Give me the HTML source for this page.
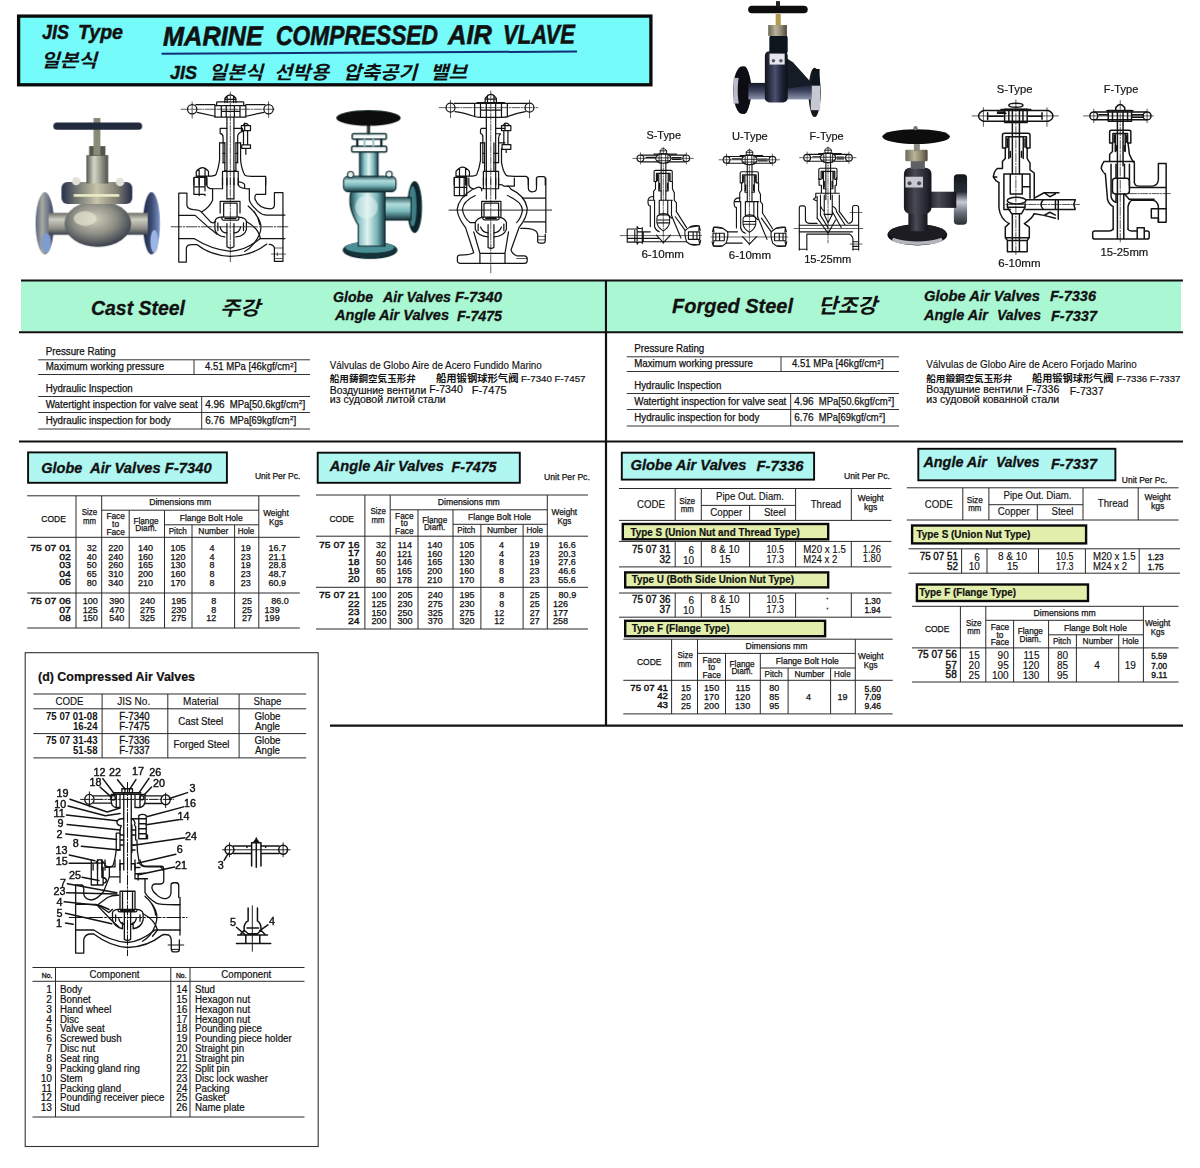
<!DOCTYPE html>
<html><head><meta charset="utf-8"><title>Marine Compressed Air Valve</title>
<style>
html,body{margin:0;padding:0;background:#fff;}
body{width:1200px;height:1168px;overflow:hidden;font-family:"Liberation Sans",sans-serif;}
svg{display:block;font-family:"Liberation Sans",sans-serif;}
svg text{fill:#111;}
</style></head><body>
<svg width="1200" height="1168" viewBox="0 0 1200 1168">
<rect x="18.6" y="16.1" width="632.3" height="68.7" fill="#74fbfa" stroke="#0a0a0a" stroke-width="3.3"/>
<text x="42.0" y="38.8" font-size="20" font-weight="bold" font-style="italic" textLength="27.0" lengthAdjust="spacingAndGlyphs" stroke="#111" stroke-width="0.45">JIS</text>
<text x="78.0" y="38.8" font-size="20" font-weight="bold" font-style="italic" textLength="45.0" lengthAdjust="spacingAndGlyphs" stroke="#111" stroke-width="0.45">Type</text>
<text x="41.0" y="66.5" font-size="18.5" font-weight="bold" font-style="italic" textLength="56.0" lengthAdjust="spacingAndGlyphs" style="font-family:'Liberation Sans','Noto Sans CJK KR',sans-serif">일본식</text>
<g transform="rotate(-0.3 370 45)">
<text x="163.0" y="44.6" font-size="27" font-weight="bold" font-style="italic" textLength="100.0" lengthAdjust="spacingAndGlyphs" stroke="#111" stroke-width="0.6">MARINE</text>
<text x="276.0" y="44.6" font-size="27" font-weight="bold" font-style="italic" textLength="162.0" lengthAdjust="spacingAndGlyphs" stroke="#111" stroke-width="0.6">COMPRESSED</text>
<text x="448.0" y="44.6" font-size="27" font-weight="bold" font-style="italic" textLength="44.0" lengthAdjust="spacingAndGlyphs" stroke="#111" stroke-width="0.6">AIR</text>
<text x="503.0" y="44.6" font-size="27" font-weight="bold" font-style="italic" textLength="72.0" lengthAdjust="spacingAndGlyphs" stroke="#111" stroke-width="0.6">VLAVE</text>
<line x1="161.5" y1="52.6" x2="577.0" y2="52.6" stroke="#12307a" stroke-width="2"/>
</g>
<text x="170.0" y="79.0" font-size="19" font-weight="bold" font-style="italic" textLength="27.0" lengthAdjust="spacingAndGlyphs" stroke="#111" stroke-width="0.45">JIS</text>
<text x="209.0" y="78.5" font-size="18.5" font-weight="bold" font-style="italic" textLength="54.0" lengthAdjust="spacingAndGlyphs" style="font-family:'Liberation Sans','Noto Sans CJK KR',sans-serif">일본식</text>
<text x="274.0" y="78.5" font-size="18.5" font-weight="bold" font-style="italic" textLength="55.0" lengthAdjust="spacingAndGlyphs" style="font-family:'Liberation Sans','Noto Sans CJK KR',sans-serif">선박용</text>
<text x="343.0" y="78.5" font-size="18.5" font-weight="bold" font-style="italic" textLength="74.0" lengthAdjust="spacingAndGlyphs" style="font-family:'Liberation Sans','Noto Sans CJK KR',sans-serif">압축공기</text>
<text x="430.0" y="78.5" font-size="18.5" font-weight="bold" font-style="italic" textLength="37.0" lengthAdjust="spacingAndGlyphs" style="font-family:'Liberation Sans','Noto Sans CJK KR',sans-serif">밸브</text>
<rect x="21.0" y="281.0" width="584.0" height="50.5" fill="#aaf7d4"/>
<rect x="607.5" y="280.0" width="573.5" height="52.0" fill="#aaf7d4"/>
<line x1="21.0" y1="280.5" x2="1183.0" y2="280.5" stroke="#111" stroke-width="2"/>
<line x1="19.0" y1="332.3" x2="605.0" y2="332.3" stroke="#111" stroke-width="2"/>
<line x1="607.0" y1="332.3" x2="1183.0" y2="332.3" stroke="#111" stroke-width="2"/>
<line x1="606.0" y1="280.0" x2="606.0" y2="726.0" stroke="#111" stroke-width="2.2"/>
<line x1="19.0" y1="441.5" x2="1183.0" y2="441.5" stroke="#111" stroke-width="2.2"/>
<line x1="330.0" y1="725.7" x2="1183.0" y2="725.7" stroke="#111" stroke-width="2.2"/>
<text x="91.0" y="314.5" font-size="20" font-weight="bold" font-style="italic" textLength="94.0" lengthAdjust="spacingAndGlyphs" stroke="#111" stroke-width="0.3">Cast Steel</text>
<text x="220.0" y="314.5" font-size="19.5" font-weight="bold" font-style="italic" textLength="40.0" lengthAdjust="spacingAndGlyphs" style="font-family:'Liberation Sans','Noto Sans CJK KR',sans-serif">주강</text>
<text x="333.0" y="302.0" font-size="14.5" font-weight="bold" font-style="italic" textLength="40.0" lengthAdjust="spacingAndGlyphs" stroke="#111" stroke-width="0.3">Globe</text>
<text x="383.0" y="302.0" font-size="14.5" font-weight="bold" font-style="italic" textLength="68.0" lengthAdjust="spacingAndGlyphs" stroke="#111" stroke-width="0.3">Air Valves</text>
<text x="455.0" y="302.0" font-size="14.5" font-weight="bold" font-style="italic" textLength="47.0" lengthAdjust="spacingAndGlyphs" stroke="#111" stroke-width="0.3">F-7340</text>
<text x="335.0" y="320.0" font-size="14.5" font-weight="bold" font-style="italic" textLength="114.0" lengthAdjust="spacingAndGlyphs" stroke="#111" stroke-width="0.3">Angle Air Valves</text>
<text x="457.0" y="321.0" font-size="14.5" font-weight="bold" font-style="italic" textLength="45.0" lengthAdjust="spacingAndGlyphs" stroke="#111" stroke-width="0.3">F-7475</text>
<text x="672.0" y="313.0" font-size="21" font-weight="bold" font-style="italic" textLength="121.0" lengthAdjust="spacingAndGlyphs" stroke="#111" stroke-width="0.3">Forged Steel</text>
<text x="818.0" y="313.0" font-size="20.5" font-weight="bold" font-style="italic" textLength="59.0" lengthAdjust="spacingAndGlyphs" style="font-family:'Liberation Sans','Noto Sans CJK KR',sans-serif">단조강</text>
<text x="924.0" y="301.0" font-size="14.5" font-weight="bold" font-style="italic" textLength="116.0" lengthAdjust="spacingAndGlyphs" stroke="#111" stroke-width="0.3">Globe Air Valves</text>
<text x="1050.0" y="301.0" font-size="14.5" font-weight="bold" font-style="italic" textLength="46.0" lengthAdjust="spacingAndGlyphs" stroke="#111" stroke-width="0.3">F-7336</text>
<text x="924.0" y="320.0" font-size="14.5" font-weight="bold" font-style="italic" textLength="64.0" lengthAdjust="spacingAndGlyphs" stroke="#111" stroke-width="0.3">Angle Air</text>
<text x="997.0" y="320.0" font-size="14.5" font-weight="bold" font-style="italic" textLength="44.0" lengthAdjust="spacingAndGlyphs" stroke="#111" stroke-width="0.3">Valves</text>
<text x="1051.0" y="321.0" font-size="14.5" font-weight="bold" font-style="italic" textLength="46.0" lengthAdjust="spacingAndGlyphs" stroke="#111" stroke-width="0.3">F-7337</text>
<text x="45.7" y="355.0" font-size="10" textLength="70.0" lengthAdjust="spacingAndGlyphs" stroke="#111" stroke-width="0.25">Pressure Rating</text><line x1="38.2" y1="359.8" x2="310.0" y2="359.8" stroke="#333" stroke-width="1"/><text x="45.7" y="370.0" font-size="10" textLength="118.5" lengthAdjust="spacingAndGlyphs" stroke="#111" stroke-width="0.25">Maximum working pressure</text><line x1="38.2" y1="374.5" x2="310.0" y2="374.5" stroke="#333" stroke-width="1"/><line x1="194.0" y1="359.8" x2="194.0" y2="374.5" stroke="#333" stroke-width="1"/><text x="205.0" y="370.3" font-size="10" textLength="85.0" lengthAdjust="spacingAndGlyphs" stroke="#111" stroke-width="0.25">4.51 MPa [46kgf/cm</text><text x="290.3" y="366.5" font-size="6" stroke="#111" stroke-width="0.25">2</text><text x="294.0" y="370.3" font-size="10" stroke="#111" stroke-width="0.25">]</text><text x="45.7" y="392.3" font-size="10" textLength="87.0" lengthAdjust="spacingAndGlyphs" stroke="#111" stroke-width="0.25">Hydraulic Inspection</text><line x1="38.2" y1="396.5" x2="310.0" y2="396.5" stroke="#333" stroke-width="1"/><text x="45.7" y="408.0" font-size="10" textLength="152.0" lengthAdjust="spacingAndGlyphs" stroke="#111" stroke-width="0.25">Watertight inspection for valve seat</text><line x1="38.2" y1="412.5" x2="310.0" y2="412.5" stroke="#333" stroke-width="1"/><text x="45.7" y="424.0" font-size="10" textLength="125.0" lengthAdjust="spacingAndGlyphs" stroke="#111" stroke-width="0.25">Hydraulic inspection for body</text><line x1="38.2" y1="429.0" x2="310.0" y2="429.0" stroke="#333" stroke-width="1"/><line x1="201.7" y1="396.5" x2="201.7" y2="429.0" stroke="#333" stroke-width="1"/><text x="205.2" y="408.0" font-size="10" textLength="19.5" lengthAdjust="spacingAndGlyphs" stroke="#111" stroke-width="0.25">4.96</text><text x="229.7" y="408.0" font-size="10" textLength="69.0" lengthAdjust="spacingAndGlyphs" stroke="#111" stroke-width="0.25">MPa[50.6kgf/cm</text><text x="298.9" y="404.2" font-size="6" stroke="#111" stroke-width="0.25">2</text><text x="302.4" y="408.0" font-size="10" stroke="#111" stroke-width="0.25">]</text><text x="205.2" y="424.0" font-size="10" textLength="19.5" lengthAdjust="spacingAndGlyphs" stroke="#111" stroke-width="0.25">6.76</text><text x="229.7" y="424.0" font-size="10" textLength="60.0" lengthAdjust="spacingAndGlyphs" stroke="#111" stroke-width="0.25">MPa[69kgf/cm</text><text x="289.9" y="420.2" font-size="6" stroke="#111" stroke-width="0.25">2</text><text x="293.4" y="424.0" font-size="10" stroke="#111" stroke-width="0.25">]</text>
<text x="634.3" y="352.0" font-size="10" textLength="70.0" lengthAdjust="spacingAndGlyphs" stroke="#111" stroke-width="0.25">Pressure Rating</text><line x1="626.8" y1="356.8" x2="899.0" y2="356.8" stroke="#333" stroke-width="1"/><text x="634.3" y="367.0" font-size="10" textLength="118.5" lengthAdjust="spacingAndGlyphs" stroke="#111" stroke-width="0.25">Maximum working pressure</text><line x1="626.8" y1="371.5" x2="899.0" y2="371.5" stroke="#333" stroke-width="1"/><line x1="781.0" y1="356.8" x2="781.0" y2="371.5" stroke="#333" stroke-width="1"/><text x="792.0" y="367.3" font-size="10" textLength="85.0" lengthAdjust="spacingAndGlyphs" stroke="#111" stroke-width="0.25">4.51 MPa [46kgf/cm</text><text x="877.3" y="363.5" font-size="6" stroke="#111" stroke-width="0.25">2</text><text x="881.0" y="367.3" font-size="10" stroke="#111" stroke-width="0.25">]</text><text x="634.3" y="389.3" font-size="10" textLength="87.0" lengthAdjust="spacingAndGlyphs" stroke="#111" stroke-width="0.25">Hydraulic Inspection</text><line x1="626.8" y1="393.5" x2="899.0" y2="393.5" stroke="#333" stroke-width="1"/><text x="634.3" y="405.0" font-size="10" textLength="152.0" lengthAdjust="spacingAndGlyphs" stroke="#111" stroke-width="0.25">Watertight inspection for valve seat</text><line x1="626.8" y1="409.5" x2="899.0" y2="409.5" stroke="#333" stroke-width="1"/><text x="634.3" y="421.0" font-size="10" textLength="125.0" lengthAdjust="spacingAndGlyphs" stroke="#111" stroke-width="0.25">Hydraulic inspection for body</text><line x1="626.8" y1="426.0" x2="899.0" y2="426.0" stroke="#333" stroke-width="1"/><line x1="790.7" y1="393.5" x2="790.7" y2="426.0" stroke="#333" stroke-width="1"/><text x="794.2" y="405.0" font-size="10" textLength="19.5" lengthAdjust="spacingAndGlyphs" stroke="#111" stroke-width="0.25">4.96</text><text x="818.7" y="405.0" font-size="10" textLength="69.0" lengthAdjust="spacingAndGlyphs" stroke="#111" stroke-width="0.25">MPa[50.6kgf/cm</text><text x="887.9" y="401.2" font-size="6" stroke="#111" stroke-width="0.25">2</text><text x="891.4" y="405.0" font-size="10" stroke="#111" stroke-width="0.25">]</text><text x="794.2" y="421.0" font-size="10" textLength="19.5" lengthAdjust="spacingAndGlyphs" stroke="#111" stroke-width="0.25">6.76</text><text x="818.7" y="421.0" font-size="10" textLength="60.0" lengthAdjust="spacingAndGlyphs" stroke="#111" stroke-width="0.25">MPa[69kgf/cm</text><text x="878.9" y="417.2" font-size="6" stroke="#111" stroke-width="0.25">2</text><text x="882.4" y="421.0" font-size="10" stroke="#111" stroke-width="0.25">]</text>
<text x="329.8" y="368.8" font-size="11" textLength="212.0" lengthAdjust="spacingAndGlyphs" stroke="#111" stroke-width="0.15">Válvulas de Globo Aire de Acero Fundido Marino</text>
<text x="329.8" y="382.3" font-size="9.6" font-weight="bold" textLength="86.0" lengthAdjust="spacingAndGlyphs" style="font-family:'Liberation Sans','Noto Sans CJK JP',sans-serif">船用鋳鋼空気玉形弁</text>
<text x="436.0" y="382.3" font-size="10" font-weight="bold" textLength="82.5" lengthAdjust="spacingAndGlyphs" style="font-family:'Liberation Sans','Noto Sans CJK SC',sans-serif">船用锻钢球形气阀</text>
<text x="521.0" y="382.3" font-size="9.5" textLength="64.5" lengthAdjust="spacingAndGlyphs" stroke="#111" stroke-width="0.2">F-7340 F-7457</text>
<text x="329.8" y="393.5" font-size="10.5" textLength="96.4" lengthAdjust="spacingAndGlyphs" stroke="#111" stroke-width="0.2">Воздушние вентили</text>
<text x="429.2" y="393.2" font-size="10.5" textLength="33.6" lengthAdjust="spacingAndGlyphs" stroke="#111" stroke-width="0.2">F-7340</text>
<text x="471.7" y="394.0" font-size="10.5" textLength="35.0" lengthAdjust="spacingAndGlyphs" stroke="#111" stroke-width="0.2">F-7475</text>
<text x="329.8" y="403.3" font-size="10.5" textLength="116.0" lengthAdjust="spacingAndGlyphs" stroke="#111" stroke-width="0.2">из судовой литой стали</text>
<text x="926.3" y="367.9" font-size="11" textLength="210.5" lengthAdjust="spacingAndGlyphs" stroke="#111" stroke-width="0.15">Válvulas de Globo Aire de Acero Forjado Marino</text>
<text x="926.3" y="382.0" font-size="9.6" font-weight="bold" textLength="86.0" lengthAdjust="spacingAndGlyphs" style="font-family:'Liberation Sans','Noto Sans CJK JP',sans-serif">船用鍛鋼空気玉形弁</text>
<text x="1032.0" y="382.0" font-size="10" font-weight="bold" textLength="81.5" lengthAdjust="spacingAndGlyphs" style="font-family:'Liberation Sans','Noto Sans CJK SC',sans-serif">船用锻钢球形气阀</text>
<text x="1116.5" y="381.8" font-size="9.5" textLength="64.0" lengthAdjust="spacingAndGlyphs" stroke="#111" stroke-width="0.2">F-7336 F-7337</text>
<text x="926.3" y="393.3" font-size="10.5" textLength="96.4" lengthAdjust="spacingAndGlyphs" stroke="#111" stroke-width="0.2">Воздушние вентили</text>
<text x="1026.0" y="392.8" font-size="10.5" textLength="33.3" lengthAdjust="spacingAndGlyphs" stroke="#111" stroke-width="0.2">F-7336</text>
<text x="1069.8" y="394.5" font-size="10.5" textLength="33.9" lengthAdjust="spacingAndGlyphs" stroke="#111" stroke-width="0.2">F-7337</text>
<text x="926.3" y="402.6" font-size="10.5" textLength="133.0" lengthAdjust="spacingAndGlyphs" stroke="#111" stroke-width="0.2">из судовой кованной стали</text>
<rect x="28.1" y="452.4" width="198.8" height="30.4" fill="#b0f6f1" stroke="#0a0a0a" stroke-width="1.9"/>
<text x="41.3" y="472.8" font-size="14.5" font-weight="bold" font-style="italic" textLength="41.0" lengthAdjust="spacingAndGlyphs" stroke="#111" stroke-width="0.3">Globe</text>
<text x="90.0" y="472.8" font-size="14.5" font-weight="bold" font-style="italic" textLength="121.6" lengthAdjust="spacingAndGlyphs" stroke="#111" stroke-width="0.3">Air Valves F-7340</text>
<text x="254.9" y="479.3" font-size="8.8" textLength="45.4" lengthAdjust="spacingAndGlyphs" stroke="#111" stroke-width="0.25">Unit Per Pc.</text>
<line x1="27.2" y1="495.8" x2="299.8" y2="495.8" stroke="#2a2a2a" stroke-width="1"/><line x1="101.7" y1="510.2" x2="258.8" y2="510.2" stroke="#2a2a2a" stroke-width="1"/><line x1="164.5" y1="524.8" x2="258.8" y2="524.8" stroke="#2a2a2a" stroke-width="1"/><line x1="27.2" y1="537.3" x2="299.8" y2="537.3" stroke="#2a2a2a" stroke-width="1"/><line x1="76.0" y1="495.8" x2="76.0" y2="628.0" stroke="#2a2a2a" stroke-width="1"/><line x1="101.7" y1="495.8" x2="101.7" y2="628.0" stroke="#2a2a2a" stroke-width="1"/><line x1="129.2" y1="510.2" x2="129.2" y2="628.0" stroke="#2a2a2a" stroke-width="1"/><line x1="164.5" y1="510.2" x2="164.5" y2="628.0" stroke="#2a2a2a" stroke-width="1"/><line x1="192.0" y1="524.8" x2="192.0" y2="628.0" stroke="#2a2a2a" stroke-width="1"/><line x1="234.6" y1="524.8" x2="234.6" y2="628.0" stroke="#2a2a2a" stroke-width="1"/><line x1="258.8" y1="495.8" x2="258.8" y2="628.0" stroke="#2a2a2a" stroke-width="1"/><line x1="27.2" y1="593.0" x2="299.8" y2="593.0" stroke="#2a2a2a" stroke-width="1"/><line x1="27.2" y1="628.0" x2="299.8" y2="628.0" stroke="#2a2a2a" stroke-width="1"/>
<text x="149.2" y="505.4" font-size="8.8" textLength="62.0" lengthAdjust="spacingAndGlyphs" stroke="#111" stroke-width="0.25">Dimensions mm</text><text x="41.3" y="522.3" font-size="9.600000000000001" textLength="24.5" lengthAdjust="spacingAndGlyphs" stroke="#111" stroke-width="0.25">CODE</text><text x="81.7" y="515.0" font-size="8.8" textLength="15.5" lengthAdjust="spacingAndGlyphs" stroke="#111" stroke-width="0.25">Size</text><text x="82.9" y="523.5" font-size="8.8" textLength="13.0" lengthAdjust="spacingAndGlyphs" stroke="#111" stroke-width="0.25">mm</text><text x="106.4" y="519.4" font-size="8.8" textLength="18.5" lengthAdjust="spacingAndGlyphs" stroke="#111" stroke-width="0.25">Face</text><text x="112.1" y="527.0" font-size="8.8" textLength="7.0" lengthAdjust="spacingAndGlyphs" stroke="#111" stroke-width="0.25">to</text><text x="106.4" y="534.5" font-size="8.8" textLength="18.5" lengthAdjust="spacingAndGlyphs" stroke="#111" stroke-width="0.25">Face</text><text x="133.5" y="523.5" font-size="8.8" textLength="25.0" lengthAdjust="spacingAndGlyphs" stroke="#111" stroke-width="0.25">Flange</text><text x="135.3" y="531.0" font-size="8.8" textLength="21.5" lengthAdjust="spacingAndGlyphs" stroke="#111" stroke-width="0.25">Diam.</text><text x="179.7" y="520.5" font-size="8.8" textLength="63.0" lengthAdjust="spacingAndGlyphs" stroke="#111" stroke-width="0.25">Flange Bolt Hole</text><text x="168.7" y="533.8" font-size="8.8" textLength="18.0" lengthAdjust="spacingAndGlyphs" stroke="#111" stroke-width="0.25">Pitch</text><text x="198.3" y="533.8" font-size="8.8" textLength="30.0" lengthAdjust="spacingAndGlyphs" stroke="#111" stroke-width="0.25">Number</text><text x="237.8" y="533.8" font-size="8.8" textLength="16.5" lengthAdjust="spacingAndGlyphs" stroke="#111" stroke-width="0.25">Hole</text><text x="263.2" y="515.5" font-size="8.8" textLength="25.5" lengthAdjust="spacingAndGlyphs" stroke="#111" stroke-width="0.25">Weight</text><text x="269.0" y="524.8" font-size="8.8" textLength="14.0" lengthAdjust="spacingAndGlyphs" stroke="#111" stroke-width="0.25">Kgs</text>
<text x="30.2" y="551.1" font-size="9" textLength="40.6" lengthAdjust="spacingAndGlyphs" stroke="#111" stroke-width="0.4">75 07 01</text>
<text x="86.8" y="551.4" font-size="8.2" textLength="10.0" lengthAdjust="spacingAndGlyphs" stroke="#111" stroke-width="0.25">32</text>
<text x="108.3" y="551.4" font-size="8.2" textLength="15.1" lengthAdjust="spacingAndGlyphs" stroke="#111" stroke-width="0.25">220</text>
<text x="137.9" y="551.4" font-size="8.2" textLength="15.1" lengthAdjust="spacingAndGlyphs" stroke="#111" stroke-width="0.25">140</text>
<text x="170.4" y="551.4" font-size="8.2" textLength="15.1" lengthAdjust="spacingAndGlyphs" stroke="#111" stroke-width="0.25">105</text>
<text x="209.5" y="551.4" font-size="8.2" textLength="5.0" lengthAdjust="spacingAndGlyphs" stroke="#111" stroke-width="0.25">4</text>
<text x="240.8" y="551.4" font-size="8.2" textLength="10.0" lengthAdjust="spacingAndGlyphs" stroke="#111" stroke-width="0.25">19</text>
<text x="268.4" y="551.4" font-size="8.2" textLength="17.6" lengthAdjust="spacingAndGlyphs" stroke="#111" stroke-width="0.25">16.7</text>
<text x="59.2" y="559.6" font-size="9" textLength="11.6" lengthAdjust="spacingAndGlyphs" stroke="#111" stroke-width="0.4">02</text>
<text x="86.8" y="559.9" font-size="8.2" textLength="10.0" lengthAdjust="spacingAndGlyphs" stroke="#111" stroke-width="0.25">40</text>
<text x="108.3" y="559.9" font-size="8.2" textLength="15.1" lengthAdjust="spacingAndGlyphs" stroke="#111" stroke-width="0.25">240</text>
<text x="137.9" y="559.9" font-size="8.2" textLength="15.1" lengthAdjust="spacingAndGlyphs" stroke="#111" stroke-width="0.25">160</text>
<text x="170.4" y="559.9" font-size="8.2" textLength="15.1" lengthAdjust="spacingAndGlyphs" stroke="#111" stroke-width="0.25">120</text>
<text x="209.5" y="559.9" font-size="8.2" textLength="5.0" lengthAdjust="spacingAndGlyphs" stroke="#111" stroke-width="0.25">4</text>
<text x="240.8" y="559.9" font-size="8.2" textLength="10.0" lengthAdjust="spacingAndGlyphs" stroke="#111" stroke-width="0.25">23</text>
<text x="268.4" y="559.9" font-size="8.2" textLength="17.6" lengthAdjust="spacingAndGlyphs" stroke="#111" stroke-width="0.25">21.1</text>
<text x="59.2" y="568.1" font-size="9" textLength="11.6" lengthAdjust="spacingAndGlyphs" stroke="#111" stroke-width="0.4">03</text>
<text x="86.8" y="568.4" font-size="8.2" textLength="10.0" lengthAdjust="spacingAndGlyphs" stroke="#111" stroke-width="0.25">50</text>
<text x="108.3" y="568.4" font-size="8.2" textLength="15.1" lengthAdjust="spacingAndGlyphs" stroke="#111" stroke-width="0.25">260</text>
<text x="137.9" y="568.4" font-size="8.2" textLength="15.1" lengthAdjust="spacingAndGlyphs" stroke="#111" stroke-width="0.25">165</text>
<text x="170.4" y="568.4" font-size="8.2" textLength="15.1" lengthAdjust="spacingAndGlyphs" stroke="#111" stroke-width="0.25">130</text>
<text x="209.5" y="568.4" font-size="8.2" textLength="5.0" lengthAdjust="spacingAndGlyphs" stroke="#111" stroke-width="0.25">8</text>
<text x="240.8" y="568.4" font-size="8.2" textLength="10.0" lengthAdjust="spacingAndGlyphs" stroke="#111" stroke-width="0.25">19</text>
<text x="268.4" y="568.4" font-size="8.2" textLength="17.6" lengthAdjust="spacingAndGlyphs" stroke="#111" stroke-width="0.25">28.8</text>
<text x="59.2" y="576.9" font-size="9" textLength="11.6" lengthAdjust="spacingAndGlyphs" stroke="#111" stroke-width="0.4">04</text>
<text x="86.8" y="577.2" font-size="8.2" textLength="10.0" lengthAdjust="spacingAndGlyphs" stroke="#111" stroke-width="0.25">65</text>
<text x="108.3" y="577.2" font-size="8.2" textLength="15.1" lengthAdjust="spacingAndGlyphs" stroke="#111" stroke-width="0.25">310</text>
<text x="137.9" y="577.2" font-size="8.2" textLength="15.1" lengthAdjust="spacingAndGlyphs" stroke="#111" stroke-width="0.25">200</text>
<text x="170.4" y="577.2" font-size="8.2" textLength="15.1" lengthAdjust="spacingAndGlyphs" stroke="#111" stroke-width="0.25">160</text>
<text x="209.5" y="577.2" font-size="8.2" textLength="5.0" lengthAdjust="spacingAndGlyphs" stroke="#111" stroke-width="0.25">8</text>
<text x="240.8" y="577.2" font-size="8.2" textLength="10.0" lengthAdjust="spacingAndGlyphs" stroke="#111" stroke-width="0.25">23</text>
<text x="268.4" y="577.2" font-size="8.2" textLength="17.6" lengthAdjust="spacingAndGlyphs" stroke="#111" stroke-width="0.25">48.7</text>
<text x="59.2" y="585.4" font-size="9" textLength="11.6" lengthAdjust="spacingAndGlyphs" stroke="#111" stroke-width="0.4">05</text>
<text x="86.8" y="585.7" font-size="8.2" textLength="10.0" lengthAdjust="spacingAndGlyphs" stroke="#111" stroke-width="0.25">80</text>
<text x="108.3" y="585.7" font-size="8.2" textLength="15.1" lengthAdjust="spacingAndGlyphs" stroke="#111" stroke-width="0.25">340</text>
<text x="137.9" y="585.7" font-size="8.2" textLength="15.1" lengthAdjust="spacingAndGlyphs" stroke="#111" stroke-width="0.25">210</text>
<text x="170.4" y="585.7" font-size="8.2" textLength="15.1" lengthAdjust="spacingAndGlyphs" stroke="#111" stroke-width="0.25">170</text>
<text x="209.5" y="585.7" font-size="8.2" textLength="5.0" lengthAdjust="spacingAndGlyphs" stroke="#111" stroke-width="0.25">8</text>
<text x="240.8" y="585.7" font-size="8.2" textLength="10.0" lengthAdjust="spacingAndGlyphs" stroke="#111" stroke-width="0.25">23</text>
<text x="268.4" y="585.7" font-size="8.2" textLength="17.6" lengthAdjust="spacingAndGlyphs" stroke="#111" stroke-width="0.25">60.9</text>
<text x="30.2" y="604.1" font-size="9" textLength="40.6" lengthAdjust="spacingAndGlyphs" stroke="#111" stroke-width="0.4">75 07 06</text>
<text x="82.7" y="604.4" font-size="8.2" textLength="15.1" lengthAdjust="spacingAndGlyphs" stroke="#111" stroke-width="0.25">100</text>
<text x="109.3" y="604.4" font-size="8.2" textLength="15.1" lengthAdjust="spacingAndGlyphs" stroke="#111" stroke-width="0.25">390</text>
<text x="139.9" y="604.4" font-size="8.2" textLength="15.1" lengthAdjust="spacingAndGlyphs" stroke="#111" stroke-width="0.25">240</text>
<text x="171.2" y="604.4" font-size="8.2" textLength="15.1" lengthAdjust="spacingAndGlyphs" stroke="#111" stroke-width="0.25">195</text>
<text x="211.2" y="604.4" font-size="8.2" textLength="5.0" lengthAdjust="spacingAndGlyphs" stroke="#111" stroke-width="0.25">8</text>
<text x="242.0" y="604.4" font-size="8.2" textLength="10.0" lengthAdjust="spacingAndGlyphs" stroke="#111" stroke-width="0.25">25</text>
<text x="271.3" y="604.4" font-size="8.2" textLength="17.6" lengthAdjust="spacingAndGlyphs" stroke="#111" stroke-width="0.25">86.0</text>
<text x="59.2" y="612.5" font-size="9" textLength="11.6" lengthAdjust="spacingAndGlyphs" stroke="#111" stroke-width="0.4">07</text>
<text x="82.7" y="612.8" font-size="8.2" textLength="15.1" lengthAdjust="spacingAndGlyphs" stroke="#111" stroke-width="0.25">125</text>
<text x="109.3" y="612.8" font-size="8.2" textLength="15.1" lengthAdjust="spacingAndGlyphs" stroke="#111" stroke-width="0.25">470</text>
<text x="139.9" y="612.8" font-size="8.2" textLength="15.1" lengthAdjust="spacingAndGlyphs" stroke="#111" stroke-width="0.25">275</text>
<text x="171.2" y="612.8" font-size="8.2" textLength="15.1" lengthAdjust="spacingAndGlyphs" stroke="#111" stroke-width="0.25">230</text>
<text x="211.2" y="612.8" font-size="8.2" textLength="5.0" lengthAdjust="spacingAndGlyphs" stroke="#111" stroke-width="0.25">8</text>
<text x="242.0" y="612.8" font-size="8.2" textLength="10.0" lengthAdjust="spacingAndGlyphs" stroke="#111" stroke-width="0.25">25</text>
<text x="264.6" y="612.8" font-size="8.2" textLength="15.1" lengthAdjust="spacingAndGlyphs" stroke="#111" stroke-width="0.25">139</text>
<text x="59.2" y="621.0" font-size="9" textLength="11.6" lengthAdjust="spacingAndGlyphs" stroke="#111" stroke-width="0.4">08</text>
<text x="82.7" y="621.3" font-size="8.2" textLength="15.1" lengthAdjust="spacingAndGlyphs" stroke="#111" stroke-width="0.25">150</text>
<text x="109.3" y="621.3" font-size="8.2" textLength="15.1" lengthAdjust="spacingAndGlyphs" stroke="#111" stroke-width="0.25">540</text>
<text x="139.9" y="621.3" font-size="8.2" textLength="15.1" lengthAdjust="spacingAndGlyphs" stroke="#111" stroke-width="0.25">325</text>
<text x="171.2" y="621.3" font-size="8.2" textLength="15.1" lengthAdjust="spacingAndGlyphs" stroke="#111" stroke-width="0.25">275</text>
<text x="206.2" y="621.3" font-size="8.2" textLength="10.0" lengthAdjust="spacingAndGlyphs" stroke="#111" stroke-width="0.25">12</text>
<text x="242.0" y="621.3" font-size="8.2" textLength="10.0" lengthAdjust="spacingAndGlyphs" stroke="#111" stroke-width="0.25">27</text>
<text x="264.6" y="621.3" font-size="8.2" textLength="15.1" lengthAdjust="spacingAndGlyphs" stroke="#111" stroke-width="0.25">199</text>
<rect x="317.7" y="452.7" width="202.1" height="30.1" fill="#b0f6f1" stroke="#0a0a0a" stroke-width="1.9"/>
<text x="329.8" y="471.0" font-size="14.5" font-weight="bold" font-style="italic" textLength="114.0" lengthAdjust="spacingAndGlyphs" stroke="#111" stroke-width="0.3">Angle Air Valves</text>
<text x="451.5" y="472.2" font-size="14.5" font-weight="bold" font-style="italic" textLength="45.0" lengthAdjust="spacingAndGlyphs" stroke="#111" stroke-width="0.3">F-7475</text>
<text x="544.0" y="479.6" font-size="8.8" textLength="45.8" lengthAdjust="spacingAndGlyphs" stroke="#111" stroke-width="0.25">Unit Per Pc.</text>
<line x1="316.0" y1="495.0" x2="588.0" y2="495.0" stroke="#2a2a2a" stroke-width="1"/><line x1="390.2" y1="509.8" x2="547.3" y2="509.8" stroke="#2a2a2a" stroke-width="1"/><line x1="453.0" y1="524.3" x2="547.3" y2="524.3" stroke="#2a2a2a" stroke-width="1"/><line x1="316.0" y1="536.2" x2="588.0" y2="536.2" stroke="#2a2a2a" stroke-width="1"/><line x1="364.9" y1="495.0" x2="364.9" y2="629.0" stroke="#2a2a2a" stroke-width="1"/><line x1="390.2" y1="495.0" x2="390.2" y2="629.0" stroke="#2a2a2a" stroke-width="1"/><line x1="418.0" y1="509.8" x2="418.0" y2="629.0" stroke="#2a2a2a" stroke-width="1"/><line x1="453.0" y1="509.8" x2="453.0" y2="629.0" stroke="#2a2a2a" stroke-width="1"/><line x1="480.9" y1="524.3" x2="480.9" y2="629.0" stroke="#2a2a2a" stroke-width="1"/><line x1="523.1" y1="524.3" x2="523.1" y2="629.0" stroke="#2a2a2a" stroke-width="1"/><line x1="547.3" y1="495.0" x2="547.3" y2="629.0" stroke="#2a2a2a" stroke-width="1"/><line x1="316.0" y1="587.3" x2="588.0" y2="587.3" stroke="#2a2a2a" stroke-width="1"/><line x1="316.0" y1="629.0" x2="588.0" y2="629.0" stroke="#2a2a2a" stroke-width="1"/>
<text x="437.8" y="504.6" font-size="8.8" textLength="62.0" lengthAdjust="spacingAndGlyphs" stroke="#111" stroke-width="0.25">Dimensions mm</text><text x="329.5" y="521.5" font-size="9.600000000000001" textLength="24.5" lengthAdjust="spacingAndGlyphs" stroke="#111" stroke-width="0.25">CODE</text><text x="370.4" y="514.2" font-size="8.8" textLength="15.5" lengthAdjust="spacingAndGlyphs" stroke="#111" stroke-width="0.25">Size</text><text x="371.6" y="522.7" font-size="8.8" textLength="13.0" lengthAdjust="spacingAndGlyphs" stroke="#111" stroke-width="0.25">mm</text><text x="395.1" y="518.6" font-size="8.8" textLength="18.5" lengthAdjust="spacingAndGlyphs" stroke="#111" stroke-width="0.25">Face</text><text x="400.8" y="526.2" font-size="8.8" textLength="7.0" lengthAdjust="spacingAndGlyphs" stroke="#111" stroke-width="0.25">to</text><text x="395.1" y="533.7" font-size="8.8" textLength="18.5" lengthAdjust="spacingAndGlyphs" stroke="#111" stroke-width="0.25">Face</text><text x="422.2" y="522.7" font-size="8.8" textLength="25.0" lengthAdjust="spacingAndGlyphs" stroke="#111" stroke-width="0.25">Flange</text><text x="423.9" y="530.2" font-size="8.8" textLength="21.5" lengthAdjust="spacingAndGlyphs" stroke="#111" stroke-width="0.25">Diam.</text><text x="468.1" y="519.7" font-size="8.8" textLength="63.0" lengthAdjust="spacingAndGlyphs" stroke="#111" stroke-width="0.25">Flange Bolt Hole</text><text x="457.3" y="533.0" font-size="8.8" textLength="18.0" lengthAdjust="spacingAndGlyphs" stroke="#111" stroke-width="0.25">Pitch</text><text x="487.0" y="533.0" font-size="8.8" textLength="30.0" lengthAdjust="spacingAndGlyphs" stroke="#111" stroke-width="0.25">Number</text><text x="526.4" y="533.0" font-size="8.8" textLength="16.5" lengthAdjust="spacingAndGlyphs" stroke="#111" stroke-width="0.25">Hole</text><text x="551.6" y="514.8" font-size="8.8" textLength="25.5" lengthAdjust="spacingAndGlyphs" stroke="#111" stroke-width="0.25">Weight</text><text x="557.4" y="524.0" font-size="8.8" textLength="14.0" lengthAdjust="spacingAndGlyphs" stroke="#111" stroke-width="0.25">Kgs</text>
<text x="318.9" y="547.8" font-size="9" textLength="40.6" lengthAdjust="spacingAndGlyphs" stroke="#111" stroke-width="0.4">75 07 16</text>
<text x="376.0" y="548.1" font-size="8.2" textLength="10.0" lengthAdjust="spacingAndGlyphs" stroke="#111" stroke-width="0.25">32</text>
<text x="397.6" y="548.1" font-size="8.2" textLength="14.4" lengthAdjust="spacingAndGlyphs" stroke="#111" stroke-width="0.25">114</text>
<text x="427.3" y="548.1" font-size="8.2" textLength="15.1" lengthAdjust="spacingAndGlyphs" stroke="#111" stroke-width="0.25">140</text>
<text x="459.2" y="548.1" font-size="8.2" textLength="15.1" lengthAdjust="spacingAndGlyphs" stroke="#111" stroke-width="0.25">105</text>
<text x="499.0" y="548.1" font-size="8.2" textLength="5.0" lengthAdjust="spacingAndGlyphs" stroke="#111" stroke-width="0.25">4</text>
<text x="529.6" y="548.1" font-size="8.2" textLength="10.0" lengthAdjust="spacingAndGlyphs" stroke="#111" stroke-width="0.25">19</text>
<text x="558.2" y="548.1" font-size="8.2" textLength="17.6" lengthAdjust="spacingAndGlyphs" stroke="#111" stroke-width="0.25">16.6</text>
<text x="347.9" y="556.3" font-size="9" textLength="11.6" lengthAdjust="spacingAndGlyphs" stroke="#111" stroke-width="0.4">17</text>
<text x="376.0" y="556.6" font-size="8.2" textLength="10.0" lengthAdjust="spacingAndGlyphs" stroke="#111" stroke-width="0.25">40</text>
<text x="396.9" y="556.6" font-size="8.2" textLength="15.1" lengthAdjust="spacingAndGlyphs" stroke="#111" stroke-width="0.25">121</text>
<text x="427.3" y="556.6" font-size="8.2" textLength="15.1" lengthAdjust="spacingAndGlyphs" stroke="#111" stroke-width="0.25">160</text>
<text x="459.2" y="556.6" font-size="8.2" textLength="15.1" lengthAdjust="spacingAndGlyphs" stroke="#111" stroke-width="0.25">120</text>
<text x="499.0" y="556.6" font-size="8.2" textLength="5.0" lengthAdjust="spacingAndGlyphs" stroke="#111" stroke-width="0.25">4</text>
<text x="529.6" y="556.6" font-size="8.2" textLength="10.0" lengthAdjust="spacingAndGlyphs" stroke="#111" stroke-width="0.25">23</text>
<text x="558.2" y="556.6" font-size="8.2" textLength="17.6" lengthAdjust="spacingAndGlyphs" stroke="#111" stroke-width="0.25">20.3</text>
<text x="347.9" y="565.0" font-size="9" textLength="11.6" lengthAdjust="spacingAndGlyphs" stroke="#111" stroke-width="0.4">18</text>
<text x="376.0" y="565.3" font-size="8.2" textLength="10.0" lengthAdjust="spacingAndGlyphs" stroke="#111" stroke-width="0.25">50</text>
<text x="396.9" y="565.3" font-size="8.2" textLength="15.1" lengthAdjust="spacingAndGlyphs" stroke="#111" stroke-width="0.25">146</text>
<text x="427.3" y="565.3" font-size="8.2" textLength="15.1" lengthAdjust="spacingAndGlyphs" stroke="#111" stroke-width="0.25">165</text>
<text x="459.2" y="565.3" font-size="8.2" textLength="15.1" lengthAdjust="spacingAndGlyphs" stroke="#111" stroke-width="0.25">130</text>
<text x="499.0" y="565.3" font-size="8.2" textLength="5.0" lengthAdjust="spacingAndGlyphs" stroke="#111" stroke-width="0.25">8</text>
<text x="529.6" y="565.3" font-size="8.2" textLength="10.0" lengthAdjust="spacingAndGlyphs" stroke="#111" stroke-width="0.25">19</text>
<text x="558.2" y="565.3" font-size="8.2" textLength="17.6" lengthAdjust="spacingAndGlyphs" stroke="#111" stroke-width="0.25">27.6</text>
<text x="347.9" y="573.7" font-size="9" textLength="11.6" lengthAdjust="spacingAndGlyphs" stroke="#111" stroke-width="0.4">19</text>
<text x="376.0" y="574.0" font-size="8.2" textLength="10.0" lengthAdjust="spacingAndGlyphs" stroke="#111" stroke-width="0.25">65</text>
<text x="396.9" y="574.0" font-size="8.2" textLength="15.1" lengthAdjust="spacingAndGlyphs" stroke="#111" stroke-width="0.25">165</text>
<text x="427.3" y="574.0" font-size="8.2" textLength="15.1" lengthAdjust="spacingAndGlyphs" stroke="#111" stroke-width="0.25">200</text>
<text x="459.2" y="574.0" font-size="8.2" textLength="15.1" lengthAdjust="spacingAndGlyphs" stroke="#111" stroke-width="0.25">160</text>
<text x="499.0" y="574.0" font-size="8.2" textLength="5.0" lengthAdjust="spacingAndGlyphs" stroke="#111" stroke-width="0.25">8</text>
<text x="529.6" y="574.0" font-size="8.2" textLength="10.0" lengthAdjust="spacingAndGlyphs" stroke="#111" stroke-width="0.25">23</text>
<text x="558.2" y="574.0" font-size="8.2" textLength="17.6" lengthAdjust="spacingAndGlyphs" stroke="#111" stroke-width="0.25">46.6</text>
<text x="347.9" y="582.4" font-size="9" textLength="11.6" lengthAdjust="spacingAndGlyphs" stroke="#111" stroke-width="0.4">20</text>
<text x="376.0" y="582.7" font-size="8.2" textLength="10.0" lengthAdjust="spacingAndGlyphs" stroke="#111" stroke-width="0.25">80</text>
<text x="396.9" y="582.7" font-size="8.2" textLength="15.1" lengthAdjust="spacingAndGlyphs" stroke="#111" stroke-width="0.25">178</text>
<text x="427.3" y="582.7" font-size="8.2" textLength="15.1" lengthAdjust="spacingAndGlyphs" stroke="#111" stroke-width="0.25">210</text>
<text x="459.2" y="582.7" font-size="8.2" textLength="15.1" lengthAdjust="spacingAndGlyphs" stroke="#111" stroke-width="0.25">170</text>
<text x="499.0" y="582.7" font-size="8.2" textLength="5.0" lengthAdjust="spacingAndGlyphs" stroke="#111" stroke-width="0.25">8</text>
<text x="529.6" y="582.7" font-size="8.2" textLength="10.0" lengthAdjust="spacingAndGlyphs" stroke="#111" stroke-width="0.25">23</text>
<text x="558.2" y="582.7" font-size="8.2" textLength="17.6" lengthAdjust="spacingAndGlyphs" stroke="#111" stroke-width="0.25">55.6</text>
<text x="318.9" y="598.1" font-size="9" textLength="40.6" lengthAdjust="spacingAndGlyphs" stroke="#111" stroke-width="0.4">75 07 21</text>
<text x="371.4" y="598.4" font-size="8.2" textLength="15.1" lengthAdjust="spacingAndGlyphs" stroke="#111" stroke-width="0.25">100</text>
<text x="397.4" y="598.4" font-size="8.2" textLength="15.1" lengthAdjust="spacingAndGlyphs" stroke="#111" stroke-width="0.25">205</text>
<text x="427.7" y="598.4" font-size="8.2" textLength="15.1" lengthAdjust="spacingAndGlyphs" stroke="#111" stroke-width="0.25">240</text>
<text x="459.4" y="598.4" font-size="8.2" textLength="15.1" lengthAdjust="spacingAndGlyphs" stroke="#111" stroke-width="0.25">195</text>
<text x="499.3" y="598.4" font-size="8.2" textLength="5.0" lengthAdjust="spacingAndGlyphs" stroke="#111" stroke-width="0.25">8</text>
<text x="529.8" y="598.4" font-size="8.2" textLength="10.0" lengthAdjust="spacingAndGlyphs" stroke="#111" stroke-width="0.25">25</text>
<text x="558.6" y="598.4" font-size="8.2" textLength="17.6" lengthAdjust="spacingAndGlyphs" stroke="#111" stroke-width="0.25">80.9</text>
<text x="347.9" y="606.5" font-size="9" textLength="11.6" lengthAdjust="spacingAndGlyphs" stroke="#111" stroke-width="0.4">22</text>
<text x="371.4" y="606.8" font-size="8.2" textLength="15.1" lengthAdjust="spacingAndGlyphs" stroke="#111" stroke-width="0.25">125</text>
<text x="397.4" y="606.8" font-size="8.2" textLength="15.1" lengthAdjust="spacingAndGlyphs" stroke="#111" stroke-width="0.25">230</text>
<text x="427.7" y="606.8" font-size="8.2" textLength="15.1" lengthAdjust="spacingAndGlyphs" stroke="#111" stroke-width="0.25">275</text>
<text x="459.4" y="606.8" font-size="8.2" textLength="15.1" lengthAdjust="spacingAndGlyphs" stroke="#111" stroke-width="0.25">230</text>
<text x="499.3" y="606.8" font-size="8.2" textLength="5.0" lengthAdjust="spacingAndGlyphs" stroke="#111" stroke-width="0.25">8</text>
<text x="529.8" y="606.8" font-size="8.2" textLength="10.0" lengthAdjust="spacingAndGlyphs" stroke="#111" stroke-width="0.25">25</text>
<text x="552.9" y="606.8" font-size="8.2" textLength="15.1" lengthAdjust="spacingAndGlyphs" stroke="#111" stroke-width="0.25">126</text>
<text x="347.9" y="615.4" font-size="9" textLength="11.6" lengthAdjust="spacingAndGlyphs" stroke="#111" stroke-width="0.4">23</text>
<text x="371.4" y="615.7" font-size="8.2" textLength="15.1" lengthAdjust="spacingAndGlyphs" stroke="#111" stroke-width="0.25">150</text>
<text x="397.4" y="615.7" font-size="8.2" textLength="15.1" lengthAdjust="spacingAndGlyphs" stroke="#111" stroke-width="0.25">250</text>
<text x="427.7" y="615.7" font-size="8.2" textLength="15.1" lengthAdjust="spacingAndGlyphs" stroke="#111" stroke-width="0.25">325</text>
<text x="459.4" y="615.7" font-size="8.2" textLength="15.1" lengthAdjust="spacingAndGlyphs" stroke="#111" stroke-width="0.25">275</text>
<text x="494.3" y="615.7" font-size="8.2" textLength="10.0" lengthAdjust="spacingAndGlyphs" stroke="#111" stroke-width="0.25">12</text>
<text x="529.8" y="615.7" font-size="8.2" textLength="10.0" lengthAdjust="spacingAndGlyphs" stroke="#111" stroke-width="0.25">27</text>
<text x="552.9" y="615.7" font-size="8.2" textLength="15.1" lengthAdjust="spacingAndGlyphs" stroke="#111" stroke-width="0.25">177</text>
<text x="347.9" y="623.9" font-size="9" textLength="11.6" lengthAdjust="spacingAndGlyphs" stroke="#111" stroke-width="0.4">24</text>
<text x="371.4" y="624.2" font-size="8.2" textLength="15.1" lengthAdjust="spacingAndGlyphs" stroke="#111" stroke-width="0.25">200</text>
<text x="397.4" y="624.2" font-size="8.2" textLength="15.1" lengthAdjust="spacingAndGlyphs" stroke="#111" stroke-width="0.25">300</text>
<text x="427.7" y="624.2" font-size="8.2" textLength="15.1" lengthAdjust="spacingAndGlyphs" stroke="#111" stroke-width="0.25">370</text>
<text x="459.4" y="624.2" font-size="8.2" textLength="15.1" lengthAdjust="spacingAndGlyphs" stroke="#111" stroke-width="0.25">320</text>
<text x="494.3" y="624.2" font-size="8.2" textLength="10.0" lengthAdjust="spacingAndGlyphs" stroke="#111" stroke-width="0.25">12</text>
<text x="529.8" y="624.2" font-size="8.2" textLength="10.0" lengthAdjust="spacingAndGlyphs" stroke="#111" stroke-width="0.25">27</text>
<text x="552.9" y="624.2" font-size="8.2" textLength="15.1" lengthAdjust="spacingAndGlyphs" stroke="#111" stroke-width="0.25">258</text>
<rect x="621.8" y="452.7" width="192.3" height="26.9" fill="#b0f6f1" stroke="#0a0a0a" stroke-width="1.9"/>
<text x="630.5" y="470.4" font-size="14.5" font-weight="bold" font-style="italic" textLength="116.0" lengthAdjust="spacingAndGlyphs" stroke="#111" stroke-width="0.3">Globe Air Valves</text>
<text x="756.5" y="470.8" font-size="14.5" font-weight="bold" font-style="italic" textLength="47.0" lengthAdjust="spacingAndGlyphs" stroke="#111" stroke-width="0.3">F-7336</text>
<text x="844.0" y="478.8" font-size="8.8" textLength="46.0" lengthAdjust="spacingAndGlyphs" stroke="#111" stroke-width="0.25">Unit Per Pc.</text>
<line x1="619.0" y1="488.5" x2="891.5" y2="488.5" stroke="#2a2a2a" stroke-width="1"/><line x1="701.3" y1="505.4" x2="795.6" y2="505.4" stroke="#2a2a2a" stroke-width="1"/><line x1="619.0" y1="520.4" x2="891.5" y2="520.4" stroke="#2a2a2a" stroke-width="1"/><line x1="675.2" y1="488.5" x2="675.2" y2="520.4" stroke="#2a2a2a" stroke-width="1"/><line x1="701.3" y1="488.5" x2="701.3" y2="520.4" stroke="#2a2a2a" stroke-width="1"/><line x1="795.6" y1="488.5" x2="795.6" y2="520.4" stroke="#2a2a2a" stroke-width="1"/><line x1="851.3" y1="488.5" x2="851.3" y2="520.4" stroke="#2a2a2a" stroke-width="1"/><line x1="749.6" y1="505.4" x2="749.6" y2="520.4" stroke="#2a2a2a" stroke-width="1"/><text x="637.0" y="508.3" font-size="10" textLength="28.0" lengthAdjust="spacingAndGlyphs" stroke="#111" stroke-width="0.15">CODE</text><text x="679.2" y="503.7" font-size="8.8" textLength="16.0" lengthAdjust="spacingAndGlyphs" stroke="#111" stroke-width="0.25">Size</text><text x="680.8" y="511.5" font-size="8.8" textLength="13.0" lengthAdjust="spacingAndGlyphs" stroke="#111" stroke-width="0.25">mm</text><text x="716.0" y="500.0" font-size="10" textLength="68.0" lengthAdjust="spacingAndGlyphs" stroke="#111" stroke-width="0.15">Pipe Out. Diam.</text><text x="710.2" y="515.8" font-size="10" textLength="32.0" lengthAdjust="spacingAndGlyphs" stroke="#111" stroke-width="0.15">Copper</text><text x="763.9" y="515.8" font-size="10" textLength="22.0" lengthAdjust="spacingAndGlyphs" stroke="#111" stroke-width="0.15">Steel</text><text x="810.7" y="507.8" font-size="10" textLength="30.5" lengthAdjust="spacingAndGlyphs" stroke="#111" stroke-width="0.15">Thread</text><text x="857.7" y="500.6" font-size="8.8" textLength="26.0" lengthAdjust="spacingAndGlyphs" stroke="#111" stroke-width="0.25">Weight</text><text x="863.9" y="509.8" font-size="8.8" textLength="13.5" lengthAdjust="spacingAndGlyphs" stroke="#111" stroke-width="0.25">kgs</text>
<rect x="622.8" y="524.0" width="205.4" height="15.3" fill="#e2efac" stroke="#0a0a0a" stroke-width="2.4"/>
<text x="630.5" y="535.6" font-size="10" font-weight="bold" textLength="169.2" lengthAdjust="spacingAndGlyphs" stroke="#111" stroke-width="0.2">Type S (Union Nut and Thread Type)</text>
<line x1="619.0" y1="541.4" x2="891.5" y2="541.4" stroke="#2a2a2a" stroke-width="1"/><line x1="619.0" y1="566.9" x2="891.5" y2="566.9" stroke="#2a2a2a" stroke-width="1"/><line x1="675.2" y1="541.4" x2="675.2" y2="566.9" stroke="#2a2a2a" stroke-width="1"/><line x1="701.3" y1="541.4" x2="701.3" y2="566.9" stroke="#2a2a2a" stroke-width="1"/><line x1="749.6" y1="541.4" x2="749.6" y2="566.9" stroke="#2a2a2a" stroke-width="1"/><line x1="795.6" y1="541.4" x2="795.6" y2="566.9" stroke="#2a2a2a" stroke-width="1"/><line x1="851.3" y1="541.4" x2="851.3" y2="566.9" stroke="#2a2a2a" stroke-width="1"/><text x="632.1" y="553.1" font-size="10" textLength="38.3" lengthAdjust="spacingAndGlyphs" stroke="#111" stroke-width="0.4">75 07 31</text><text x="659.4" y="562.8" font-size="10" textLength="11.0" lengthAdjust="spacingAndGlyphs" stroke="#111" stroke-width="0.4">32</text><text x="688.5" y="553.9" font-size="10" stroke="#111" stroke-width="0.15">6</text><text x="683.0" y="563.6" font-size="10" stroke="#111" stroke-width="0.15">10</text><text x="710.7" y="553.1" font-size="10" textLength="29.0" lengthAdjust="spacingAndGlyphs" stroke="#111" stroke-width="0.15">8 &amp; 10</text><text x="719.6" y="562.8" font-size="10" stroke="#111" stroke-width="0.15">15</text><text x="766.6" y="553.1" font-size="10" textLength="17.5" lengthAdjust="spacingAndGlyphs" stroke="#111" stroke-width="0.15">10.5</text><text x="766.6" y="562.8" font-size="10" textLength="17.5" lengthAdjust="spacingAndGlyphs" stroke="#111" stroke-width="0.15">17.3</text><text x="803.3" y="553.1" font-size="10" textLength="42.5" lengthAdjust="spacingAndGlyphs" stroke="#111" stroke-width="0.15">M20 x 1.5</text><text x="803.3" y="562.8" font-size="10" textLength="34.0" lengthAdjust="spacingAndGlyphs" stroke="#111" stroke-width="0.15">M24 x 2</text><text x="862.8" y="552.6" font-size="10" textLength="18.2" lengthAdjust="spacingAndGlyphs" stroke="#111" stroke-width="0.15">1.26</text><text x="862.8" y="562.3" font-size="10" textLength="18.2" lengthAdjust="spacingAndGlyphs" stroke="#111" stroke-width="0.15">1.80</text>
<rect x="625.2" y="572.4" width="203.0" height="15.0" fill="#e2efac" stroke="#0a0a0a" stroke-width="2.4"/>
<text x="631.7" y="583.3" font-size="10" font-weight="bold" textLength="162.4" lengthAdjust="spacingAndGlyphs" stroke="#111" stroke-width="0.2">Type U (Both Side Union Nut Type)</text>
<line x1="619.0" y1="593.0" x2="891.5" y2="593.0" stroke="#2a2a2a" stroke-width="1"/><line x1="619.0" y1="617.2" x2="891.5" y2="617.2" stroke="#2a2a2a" stroke-width="1"/><line x1="675.2" y1="593.0" x2="675.2" y2="617.2" stroke="#2a2a2a" stroke-width="1"/><line x1="701.3" y1="593.0" x2="701.3" y2="617.2" stroke="#2a2a2a" stroke-width="1"/><line x1="749.6" y1="593.0" x2="749.6" y2="617.2" stroke="#2a2a2a" stroke-width="1"/><line x1="795.6" y1="593.0" x2="795.6" y2="617.2" stroke="#2a2a2a" stroke-width="1"/><line x1="851.3" y1="593.0" x2="851.3" y2="617.2" stroke="#2a2a2a" stroke-width="1"/><text x="632.1" y="603.1" font-size="10" textLength="38.3" lengthAdjust="spacingAndGlyphs" stroke="#111" stroke-width="0.4">75 07 36</text><text x="659.4" y="612.8" font-size="10" textLength="11.0" lengthAdjust="spacingAndGlyphs" stroke="#111" stroke-width="0.4">37</text><text x="688.5" y="603.9" font-size="10" stroke="#111" stroke-width="0.15">6</text><text x="683.0" y="613.6" font-size="10" stroke="#111" stroke-width="0.15">10</text><text x="710.7" y="603.1" font-size="10" textLength="29.0" lengthAdjust="spacingAndGlyphs" stroke="#111" stroke-width="0.15">8 &amp; 10</text><text x="719.6" y="612.8" font-size="10" stroke="#111" stroke-width="0.15">15</text><text x="766.6" y="603.1" font-size="10" textLength="17.5" lengthAdjust="spacingAndGlyphs" stroke="#111" stroke-width="0.15">10.5</text><text x="766.6" y="612.8" font-size="10" textLength="17.5" lengthAdjust="spacingAndGlyphs" stroke="#111" stroke-width="0.15">17.3</text><text x="825.8" y="602.1" font-size="10" stroke="#111" stroke-width="0.3">·</text><text x="825.8" y="611.8" font-size="10" stroke="#111" stroke-width="0.3">·</text><text x="864.5" y="603.6" font-size="8.2" textLength="16.0" lengthAdjust="spacingAndGlyphs" stroke="#111" stroke-width="0.35">1.30</text><text x="864.5" y="613.3" font-size="8.2" textLength="16.0" lengthAdjust="spacingAndGlyphs" stroke="#111" stroke-width="0.35">1.94</text>
<rect x="625.2" y="620.8" width="199.9" height="15.4" fill="#e2efac" stroke="#0a0a0a" stroke-width="2.4"/>
<text x="631.7" y="631.7" font-size="10" font-weight="bold" textLength="98.0" lengthAdjust="spacingAndGlyphs" stroke="#111" stroke-width="0.2">Type F (Flange Type)</text>
<line x1="623.3" y1="639.2" x2="892.7" y2="639.2" stroke="#2a2a2a" stroke-width="1"/><line x1="697.5" y1="653.4" x2="855.3" y2="653.4" stroke="#2a2a2a" stroke-width="1"/><line x1="760.3" y1="668.0" x2="855.3" y2="668.0" stroke="#2a2a2a" stroke-width="1"/><line x1="623.3" y1="680.3" x2="892.7" y2="680.3" stroke="#2a2a2a" stroke-width="1"/><line x1="671.6" y1="639.2" x2="671.6" y2="713.9" stroke="#2a2a2a" stroke-width="1"/><line x1="697.5" y1="639.2" x2="697.5" y2="713.9" stroke="#2a2a2a" stroke-width="1"/><line x1="725.5" y1="653.4" x2="725.5" y2="713.9" stroke="#2a2a2a" stroke-width="1"/><line x1="760.3" y1="653.4" x2="760.3" y2="713.9" stroke="#2a2a2a" stroke-width="1"/><line x1="788.1" y1="668.0" x2="788.1" y2="713.9" stroke="#2a2a2a" stroke-width="1"/><line x1="830.6" y1="668.0" x2="830.6" y2="713.9" stroke="#2a2a2a" stroke-width="1"/><line x1="855.3" y1="639.2" x2="855.3" y2="713.9" stroke="#2a2a2a" stroke-width="1"/><line x1="623.3" y1="713.9" x2="892.7" y2="713.9" stroke="#2a2a2a" stroke-width="1"/>
<text x="745.4" y="648.8" font-size="8.8" textLength="62.0" lengthAdjust="spacingAndGlyphs" stroke="#111" stroke-width="0.25">Dimensions mm</text><text x="637.0" y="665.0" font-size="9.600000000000001" textLength="24.5" lengthAdjust="spacingAndGlyphs" stroke="#111" stroke-width="0.25">CODE</text><text x="677.4" y="658.4" font-size="8.8" textLength="15.5" lengthAdjust="spacingAndGlyphs" stroke="#111" stroke-width="0.25">Size</text><text x="678.6" y="666.9" font-size="8.8" textLength="13.0" lengthAdjust="spacingAndGlyphs" stroke="#111" stroke-width="0.25">mm</text><text x="702.5" y="662.8" font-size="8.8" textLength="18.5" lengthAdjust="spacingAndGlyphs" stroke="#111" stroke-width="0.25">Face</text><text x="708.2" y="670.4" font-size="8.8" textLength="7.0" lengthAdjust="spacingAndGlyphs" stroke="#111" stroke-width="0.25">to</text><text x="702.5" y="677.9" font-size="8.8" textLength="18.5" lengthAdjust="spacingAndGlyphs" stroke="#111" stroke-width="0.25">Face</text><text x="729.6" y="666.9" font-size="8.8" textLength="25.0" lengthAdjust="spacingAndGlyphs" stroke="#111" stroke-width="0.25">Flange</text><text x="731.4" y="674.4" font-size="8.8" textLength="21.5" lengthAdjust="spacingAndGlyphs" stroke="#111" stroke-width="0.25">Diam.</text><text x="775.8" y="663.9" font-size="8.8" textLength="63.0" lengthAdjust="spacingAndGlyphs" stroke="#111" stroke-width="0.25">Flange Bolt Hole</text><text x="764.6" y="677.2" font-size="8.8" textLength="18.0" lengthAdjust="spacingAndGlyphs" stroke="#111" stroke-width="0.25">Pitch</text><text x="794.4" y="677.2" font-size="8.8" textLength="30.0" lengthAdjust="spacingAndGlyphs" stroke="#111" stroke-width="0.25">Number</text><text x="834.1" y="677.2" font-size="8.8" textLength="16.5" lengthAdjust="spacingAndGlyphs" stroke="#111" stroke-width="0.25">Hole</text><text x="858.0" y="659.0" font-size="8.8" textLength="25.5" lengthAdjust="spacingAndGlyphs" stroke="#111" stroke-width="0.25">Weight</text><text x="863.7" y="668.2" font-size="8.8" textLength="14.0" lengthAdjust="spacingAndGlyphs" stroke="#111" stroke-width="0.25">Kgs</text>
<text x="630.3" y="690.8" font-size="8.8" textLength="37.7" lengthAdjust="spacingAndGlyphs" stroke="#111" stroke-width="0.4">75 07 41</text>
<text x="681.0" y="691.1" font-size="8.2" textLength="10.0" lengthAdjust="spacingAndGlyphs" stroke="#111" stroke-width="0.25">15</text>
<text x="704.1" y="691.1" font-size="8.2" textLength="15.1" lengthAdjust="spacingAndGlyphs" stroke="#111" stroke-width="0.25">150</text>
<text x="735.8" y="691.1" font-size="8.2" textLength="14.4" lengthAdjust="spacingAndGlyphs" stroke="#111" stroke-width="0.25">115</text>
<text x="769.3" y="691.1" font-size="8.2" textLength="10.0" lengthAdjust="spacingAndGlyphs" stroke="#111" stroke-width="0.25">80</text>
<text x="864.5" y="691.7" font-size="8.2" textLength="16.6" lengthAdjust="spacingAndGlyphs" stroke="#111" stroke-width="0.35">5.60</text>
<text x="657.2" y="699.4" font-size="8.8" textLength="10.8" lengthAdjust="spacingAndGlyphs" stroke="#111" stroke-width="0.4">42</text>
<text x="681.0" y="699.7" font-size="8.2" textLength="10.0" lengthAdjust="spacingAndGlyphs" stroke="#111" stroke-width="0.25">20</text>
<text x="704.1" y="699.7" font-size="8.2" textLength="15.1" lengthAdjust="spacingAndGlyphs" stroke="#111" stroke-width="0.25">170</text>
<text x="735.1" y="699.7" font-size="8.2" textLength="15.1" lengthAdjust="spacingAndGlyphs" stroke="#111" stroke-width="0.25">120</text>
<text x="769.3" y="699.7" font-size="8.2" textLength="10.0" lengthAdjust="spacingAndGlyphs" stroke="#111" stroke-width="0.25">85</text>
<text x="864.5" y="700.3" font-size="8.2" textLength="16.6" lengthAdjust="spacingAndGlyphs" stroke="#111" stroke-width="0.35">7.09</text>
<text x="657.2" y="708.2" font-size="8.8" textLength="10.8" lengthAdjust="spacingAndGlyphs" stroke="#111" stroke-width="0.4">43</text>
<text x="681.0" y="708.5" font-size="8.2" textLength="10.0" lengthAdjust="spacingAndGlyphs" stroke="#111" stroke-width="0.25">25</text>
<text x="704.1" y="708.5" font-size="8.2" textLength="15.1" lengthAdjust="spacingAndGlyphs" stroke="#111" stroke-width="0.25">200</text>
<text x="735.1" y="708.5" font-size="8.2" textLength="15.1" lengthAdjust="spacingAndGlyphs" stroke="#111" stroke-width="0.25">130</text>
<text x="769.3" y="708.5" font-size="8.2" textLength="10.0" lengthAdjust="spacingAndGlyphs" stroke="#111" stroke-width="0.25">95</text>
<text x="864.5" y="709.1" font-size="8.2" textLength="16.6" lengthAdjust="spacingAndGlyphs" stroke="#111" stroke-width="0.35">9.46</text>
<text x="806.1" y="699.7" font-size="8.2" textLength="5.0" lengthAdjust="spacingAndGlyphs" stroke="#111" stroke-width="0.25">4</text>
<text x="837.5" y="699.7" font-size="8.2" textLength="10.0" lengthAdjust="spacingAndGlyphs" stroke="#111" stroke-width="0.25">19</text>
<rect x="918.3" y="448.8" width="197.1" height="31.5" fill="#b0f6f1" stroke="#0a0a0a" stroke-width="1.9"/>
<text x="923.4" y="466.7" font-size="14.5" font-weight="bold" font-style="italic" textLength="63.5" lengthAdjust="spacingAndGlyphs" stroke="#111" stroke-width="0.3">Angle Air</text>
<text x="996.0" y="466.7" font-size="14.5" font-weight="bold" font-style="italic" textLength="43.5" lengthAdjust="spacingAndGlyphs" stroke="#111" stroke-width="0.3">Valves</text>
<text x="1051.0" y="468.6" font-size="14.5" font-weight="bold" font-style="italic" textLength="46.0" lengthAdjust="spacingAndGlyphs" stroke="#111" stroke-width="0.3">F-7337</text>
<text x="1121.8" y="483.0" font-size="8.8" textLength="45.2" lengthAdjust="spacingAndGlyphs" stroke="#111" stroke-width="0.25">Unit Per Pc.</text>
<line x1="906.8" y1="487.8" x2="1178.5" y2="487.8" stroke="#2a2a2a" stroke-width="1"/><line x1="988.9" y1="504.7" x2="1083.0" y2="504.7" stroke="#2a2a2a" stroke-width="1"/><line x1="906.8" y1="520.0" x2="1178.5" y2="520.0" stroke="#2a2a2a" stroke-width="1"/><line x1="962.8" y1="487.8" x2="962.8" y2="520.0" stroke="#2a2a2a" stroke-width="1"/><line x1="988.9" y1="487.8" x2="988.9" y2="520.0" stroke="#2a2a2a" stroke-width="1"/><line x1="1083.0" y1="487.8" x2="1083.0" y2="520.0" stroke="#2a2a2a" stroke-width="1"/><line x1="1138.2" y1="487.8" x2="1138.2" y2="520.0" stroke="#2a2a2a" stroke-width="1"/><line x1="1037.3" y1="504.7" x2="1037.3" y2="520.0" stroke="#2a2a2a" stroke-width="1"/><text x="924.8" y="507.6" font-size="10" textLength="28.0" lengthAdjust="spacingAndGlyphs" stroke="#111" stroke-width="0.15">CODE</text><text x="966.8" y="503.0" font-size="8.8" textLength="16.0" lengthAdjust="spacingAndGlyphs" stroke="#111" stroke-width="0.25">Size</text><text x="968.3" y="510.8" font-size="8.8" textLength="13.0" lengthAdjust="spacingAndGlyphs" stroke="#111" stroke-width="0.25">mm</text><text x="1003.5" y="499.3" font-size="10" textLength="68.0" lengthAdjust="spacingAndGlyphs" stroke="#111" stroke-width="0.15">Pipe Out. Diam.</text><text x="997.8" y="515.1" font-size="10" textLength="32.0" lengthAdjust="spacingAndGlyphs" stroke="#111" stroke-width="0.15">Copper</text><text x="1051.5" y="515.1" font-size="10" textLength="22.0" lengthAdjust="spacingAndGlyphs" stroke="#111" stroke-width="0.15">Steel</text><text x="1097.8" y="507.1" font-size="10" textLength="30.5" lengthAdjust="spacingAndGlyphs" stroke="#111" stroke-width="0.15">Thread</text><text x="1144.6" y="499.9" font-size="8.8" textLength="26.0" lengthAdjust="spacingAndGlyphs" stroke="#111" stroke-width="0.25">Weight</text><text x="1150.9" y="509.1" font-size="8.8" textLength="13.5" lengthAdjust="spacingAndGlyphs" stroke="#111" stroke-width="0.25">kgs</text>
<rect x="912.1" y="525.5" width="174.0" height="17.9" fill="#e2efac" stroke="#0a0a0a" stroke-width="2.4"/>
<text x="916.4" y="538.0" font-size="10" font-weight="bold" textLength="114.0" lengthAdjust="spacingAndGlyphs" stroke="#111" stroke-width="0.2">Type S (Union Nut Type)</text>
<line x1="908.5" y1="548.8" x2="1180.0" y2="548.8" stroke="#2a2a2a" stroke-width="1"/><line x1="908.5" y1="573.2" x2="1180.0" y2="573.2" stroke="#2a2a2a" stroke-width="1"/><line x1="961.6" y1="548.8" x2="961.6" y2="573.2" stroke="#2a2a2a" stroke-width="1"/><line x1="987.0" y1="548.8" x2="987.0" y2="573.2" stroke="#2a2a2a" stroke-width="1"/><line x1="1038.5" y1="548.8" x2="1038.5" y2="573.2" stroke="#2a2a2a" stroke-width="1"/><line x1="1085.4" y1="548.8" x2="1085.4" y2="573.2" stroke="#2a2a2a" stroke-width="1"/><line x1="1139.2" y1="548.8" x2="1139.2" y2="573.2" stroke="#2a2a2a" stroke-width="1"/><text x="919.7" y="559.9" font-size="10" textLength="38.3" lengthAdjust="spacingAndGlyphs" stroke="#111" stroke-width="0.4">75 07 51</text><text x="947.0" y="569.6" font-size="10" textLength="11.0" lengthAdjust="spacingAndGlyphs" stroke="#111" stroke-width="0.4">52</text><text x="974.2" y="560.7" font-size="10" stroke="#111" stroke-width="0.15">6</text><text x="968.7" y="570.4" font-size="10" stroke="#111" stroke-width="0.15">10</text><text x="998.0" y="559.9" font-size="10" textLength="29.0" lengthAdjust="spacingAndGlyphs" stroke="#111" stroke-width="0.15">8 &amp; 10</text><text x="1006.9" y="569.6" font-size="10" stroke="#111" stroke-width="0.15">15</text><text x="1056.0" y="559.9" font-size="10" textLength="17.5" lengthAdjust="spacingAndGlyphs" stroke="#111" stroke-width="0.15">10.5</text><text x="1056.0" y="569.6" font-size="10" textLength="17.5" lengthAdjust="spacingAndGlyphs" stroke="#111" stroke-width="0.15">17.3</text><text x="1093.1" y="559.9" font-size="10" textLength="42.5" lengthAdjust="spacingAndGlyphs" stroke="#111" stroke-width="0.15">M20 x 1.5</text><text x="1093.1" y="569.6" font-size="10" textLength="34.0" lengthAdjust="spacingAndGlyphs" stroke="#111" stroke-width="0.15">M24 x 2</text><text x="1147.7" y="560.4" font-size="8.2" textLength="16.0" lengthAdjust="spacingAndGlyphs" stroke="#111" stroke-width="0.35">1.23</text><text x="1147.7" y="570.1" font-size="8.2" textLength="16.0" lengthAdjust="spacingAndGlyphs" stroke="#111" stroke-width="0.35">1.75</text>
<rect x="916.9" y="584.5" width="171.1" height="16.5" fill="#e2efac" stroke="#0a0a0a" stroke-width="2.4"/>
<text x="919.3" y="596.1" font-size="10" font-weight="bold" textLength="96.7" lengthAdjust="spacingAndGlyphs" stroke="#111" stroke-width="0.2">Type F (Flange Type)</text>
<line x1="912.0" y1="606.3" x2="1178.5" y2="606.3" stroke="#2a2a2a" stroke-width="1"/><line x1="985.8" y1="620.3" x2="1143.4" y2="620.3" stroke="#2a2a2a" stroke-width="1"/><line x1="1048.6" y1="634.8" x2="1143.4" y2="634.8" stroke="#2a2a2a" stroke-width="1"/><line x1="912.0" y1="647.9" x2="1178.5" y2="647.9" stroke="#2a2a2a" stroke-width="1"/><line x1="960.4" y1="606.3" x2="960.4" y2="682.0" stroke="#2a2a2a" stroke-width="1"/><line x1="985.8" y1="606.3" x2="985.8" y2="682.0" stroke="#2a2a2a" stroke-width="1"/><line x1="1013.6" y1="620.3" x2="1013.6" y2="682.0" stroke="#2a2a2a" stroke-width="1"/><line x1="1048.6" y1="620.3" x2="1048.6" y2="682.0" stroke="#2a2a2a" stroke-width="1"/><line x1="1076.4" y1="634.8" x2="1076.4" y2="682.0" stroke="#2a2a2a" stroke-width="1"/><line x1="1118.7" y1="634.8" x2="1118.7" y2="682.0" stroke="#2a2a2a" stroke-width="1"/><line x1="1143.4" y1="606.3" x2="1143.4" y2="682.0" stroke="#2a2a2a" stroke-width="1"/><line x1="912.0" y1="682.0" x2="1178.5" y2="682.0" stroke="#2a2a2a" stroke-width="1"/>
<text x="1033.6" y="615.9" font-size="8.8" textLength="62.0" lengthAdjust="spacingAndGlyphs" stroke="#111" stroke-width="0.25">Dimensions mm</text><text x="924.9" y="632.1" font-size="9.600000000000001" textLength="24.5" lengthAdjust="spacingAndGlyphs" stroke="#111" stroke-width="0.25">CODE</text><text x="965.9" y="625.5" font-size="8.8" textLength="15.5" lengthAdjust="spacingAndGlyphs" stroke="#111" stroke-width="0.25">Size</text><text x="967.2" y="634.0" font-size="8.8" textLength="13.0" lengthAdjust="spacingAndGlyphs" stroke="#111" stroke-width="0.25">mm</text><text x="990.7" y="629.9" font-size="8.8" textLength="18.5" lengthAdjust="spacingAndGlyphs" stroke="#111" stroke-width="0.25">Face</text><text x="996.4" y="637.5" font-size="8.8" textLength="7.0" lengthAdjust="spacingAndGlyphs" stroke="#111" stroke-width="0.25">to</text><text x="990.7" y="645.0" font-size="8.8" textLength="18.5" lengthAdjust="spacingAndGlyphs" stroke="#111" stroke-width="0.25">Face</text><text x="1017.8" y="634.0" font-size="8.8" textLength="25.0" lengthAdjust="spacingAndGlyphs" stroke="#111" stroke-width="0.25">Flange</text><text x="1019.5" y="641.5" font-size="8.8" textLength="21.5" lengthAdjust="spacingAndGlyphs" stroke="#111" stroke-width="0.25">Diam.</text><text x="1064.0" y="631.0" font-size="8.8" textLength="63.0" lengthAdjust="spacingAndGlyphs" stroke="#111" stroke-width="0.25">Flange Bolt Hole</text><text x="1052.9" y="644.3" font-size="8.8" textLength="18.0" lengthAdjust="spacingAndGlyphs" stroke="#111" stroke-width="0.25">Pitch</text><text x="1082.6" y="644.3" font-size="8.8" textLength="30.0" lengthAdjust="spacingAndGlyphs" stroke="#111" stroke-width="0.25">Number</text><text x="1122.2" y="644.3" font-size="8.8" textLength="16.5" lengthAdjust="spacingAndGlyphs" stroke="#111" stroke-width="0.25">Hole</text><text x="1144.9" y="626.1" font-size="8.8" textLength="25.5" lengthAdjust="spacingAndGlyphs" stroke="#111" stroke-width="0.25">Weight</text><text x="1150.7" y="635.3" font-size="8.8" textLength="14.0" lengthAdjust="spacingAndGlyphs" stroke="#111" stroke-width="0.25">Kgs</text>
<text x="917.5" y="658.4" font-size="10" textLength="39.3" lengthAdjust="spacingAndGlyphs" stroke="#111" stroke-width="0.4">75 07 56</text>
<text x="968.6" y="659.3" font-size="10" stroke="#111" stroke-width="0.15">15</text>
<text x="997.6" y="659.3" font-size="10" stroke="#111" stroke-width="0.15">90</text>
<text x="1023.5" y="659.3" font-size="10" stroke="#111" stroke-width="0.15">115</text>
<text x="1056.9" y="659.3" font-size="10" stroke="#111" stroke-width="0.15">80</text>
<text x="1151.3" y="658.5" font-size="8.2" textLength="15.8" lengthAdjust="spacingAndGlyphs" stroke="#111" stroke-width="0.35">5.59</text>
<text x="945.6" y="668.5" font-size="10" textLength="11.2" lengthAdjust="spacingAndGlyphs" stroke="#111" stroke-width="0.4">57</text>
<text x="968.6" y="669.4" font-size="10" stroke="#111" stroke-width="0.15">20</text>
<text x="997.6" y="669.4" font-size="10" stroke="#111" stroke-width="0.15">95</text>
<text x="1022.7" y="669.4" font-size="10" stroke="#111" stroke-width="0.15">120</text>
<text x="1056.9" y="669.4" font-size="10" stroke="#111" stroke-width="0.15">85</text>
<text x="1151.3" y="668.6" font-size="8.2" textLength="15.8" lengthAdjust="spacingAndGlyphs" stroke="#111" stroke-width="0.35">7.00</text>
<text x="945.6" y="678.2" font-size="10" textLength="11.2" lengthAdjust="spacingAndGlyphs" stroke="#111" stroke-width="0.4">58</text>
<text x="968.6" y="679.1" font-size="10" stroke="#111" stroke-width="0.15">25</text>
<text x="992.0" y="679.1" font-size="10" stroke="#111" stroke-width="0.15">100</text>
<text x="1022.7" y="679.1" font-size="10" stroke="#111" stroke-width="0.15">130</text>
<text x="1056.9" y="679.1" font-size="10" stroke="#111" stroke-width="0.15">95</text>
<text x="1151.3" y="678.3" font-size="8.2" textLength="15.8" lengthAdjust="spacingAndGlyphs" stroke="#111" stroke-width="0.35">9.11</text>
<text x="1094.2" y="669.1" font-size="10" stroke="#111" stroke-width="0.15">4</text>
<text x="1124.7" y="669.1" font-size="10" stroke="#111" stroke-width="0.15">19</text>
<rect x="25.2" y="652.7" width="293.0" height="493.8" fill="none" stroke="#333" stroke-width="1.1"/>
<text x="38.0" y="681.2" font-size="12.5" font-weight="bold" textLength="157.0" lengthAdjust="spacingAndGlyphs" stroke="#111" stroke-width="0.2">(d) Compressed Air Valves</text>
<line x1="33.4" y1="694.0" x2="306.2" y2="694.0" stroke="#2a2a2a" stroke-width="1"/>
<line x1="33.4" y1="708.8" x2="306.2" y2="708.8" stroke="#2a2a2a" stroke-width="1"/>
<line x1="33.4" y1="733.6" x2="306.2" y2="733.6" stroke="#2a2a2a" stroke-width="1"/>
<line x1="33.4" y1="757.9" x2="306.2" y2="757.9" stroke="#2a2a2a" stroke-width="1"/>
<line x1="102.1" y1="694.0" x2="102.1" y2="757.9" stroke="#2a2a2a" stroke-width="1"/>
<line x1="167.8" y1="694.0" x2="167.8" y2="757.9" stroke="#2a2a2a" stroke-width="1"/>
<line x1="239.1" y1="694.0" x2="239.1" y2="757.9" stroke="#2a2a2a" stroke-width="1"/>
<text x="55.6" y="705.2" font-size="10" textLength="28.0" lengthAdjust="spacingAndGlyphs" stroke="#111" stroke-width="0.15">CODE</text>
<text x="117.2" y="705.2" font-size="10" textLength="33.0" lengthAdjust="spacingAndGlyphs" stroke="#111" stroke-width="0.15">JIS No.</text>
<text x="183.1" y="705.2" font-size="10" textLength="35.5" lengthAdjust="spacingAndGlyphs" stroke="#111" stroke-width="0.15">Material</text>
<text x="253.5" y="705.2" font-size="10" textLength="28.0" lengthAdjust="spacingAndGlyphs" stroke="#111" stroke-width="0.15">Shape</text>
<text x="46.0" y="719.9" font-size="10.3" font-weight="bold" textLength="51.5" lengthAdjust="spacingAndGlyphs">75 07 01-08</text>
<text x="73.0" y="729.7" font-size="10.3" font-weight="bold" textLength="24.5" lengthAdjust="spacingAndGlyphs">16-24</text>
<text x="119.2" y="719.9" font-size="10" textLength="30.5" lengthAdjust="spacingAndGlyphs" stroke="#111" stroke-width="0.3">F-7340</text>
<text x="119.2" y="729.7" font-size="10" textLength="30.5" lengthAdjust="spacingAndGlyphs" stroke="#111" stroke-width="0.3">F-7475</text>
<text x="178.3" y="724.6" font-size="10" textLength="45.0" lengthAdjust="spacingAndGlyphs" stroke="#111" stroke-width="0.2">Cast Steel</text>
<text x="254.5" y="719.9" font-size="10" textLength="26.0" lengthAdjust="spacingAndGlyphs" stroke="#111" stroke-width="0.2">Globe</text>
<text x="255.0" y="729.7" font-size="10" textLength="25.0" lengthAdjust="spacingAndGlyphs" stroke="#111" stroke-width="0.2">Angle</text>
<text x="46.0" y="744.0" font-size="10.3" font-weight="bold" textLength="51.5" lengthAdjust="spacingAndGlyphs">75 07 31-43</text>
<text x="73.0" y="753.5" font-size="10.3" font-weight="bold" textLength="24.5" lengthAdjust="spacingAndGlyphs">51-58</text>
<text x="119.2" y="744.0" font-size="10" textLength="30.5" lengthAdjust="spacingAndGlyphs" stroke="#111" stroke-width="0.3">F-7336</text>
<text x="119.2" y="753.5" font-size="10" textLength="30.5" lengthAdjust="spacingAndGlyphs" stroke="#111" stroke-width="0.3">F-7337</text>
<text x="173.5" y="748.3" font-size="10" textLength="56.0" lengthAdjust="spacingAndGlyphs" stroke="#111" stroke-width="0.2">Forged Steel</text>
<text x="254.5" y="744.0" font-size="10" textLength="26.0" lengthAdjust="spacingAndGlyphs" stroke="#111" stroke-width="0.2">Globe</text>
<text x="255.0" y="753.5" font-size="10" textLength="25.0" lengthAdjust="spacingAndGlyphs" stroke="#111" stroke-width="0.2">Angle</text>
<line x1="32.5" y1="967.5" x2="304.5" y2="967.5" stroke="#2a2a2a" stroke-width="1"/>
<line x1="32.5" y1="981.3" x2="304.5" y2="981.3" stroke="#2a2a2a" stroke-width="1"/>
<line x1="32.5" y1="1117.0" x2="304.5" y2="1117.0" stroke="#2a2a2a" stroke-width="1"/>
<line x1="55.5" y1="967.5" x2="55.5" y2="1117.0" stroke="#2a2a2a" stroke-width="1"/>
<line x1="170.8" y1="967.5" x2="170.8" y2="1117.0" stroke="#2a2a2a" stroke-width="1"/>
<line x1="190.0" y1="967.5" x2="190.0" y2="1117.0" stroke="#2a2a2a" stroke-width="1"/>
<text x="41.8" y="977.6" font-size="6.5" textLength="10.5" lengthAdjust="spacingAndGlyphs" stroke="#111" stroke-width="0.3">No.</text>
<text x="175.9" y="977.6" font-size="6.5" textLength="10.5" lengthAdjust="spacingAndGlyphs" stroke="#111" stroke-width="0.3">No.</text>
<text x="89.5" y="978.0" font-size="10" textLength="50.0" lengthAdjust="spacingAndGlyphs" stroke="#111" stroke-width="0.2">Component</text>
<text x="221.3" y="978.0" font-size="10" textLength="50.0" lengthAdjust="spacingAndGlyphs" stroke="#111" stroke-width="0.2">Component</text>
<text x="46.3" y="993.0" font-size="10" textLength="5.7" lengthAdjust="spacingAndGlyphs" stroke="#111" stroke-width="0.2">1</text>
<text x="60.0" y="993.0" font-size="10" textLength="22.2" lengthAdjust="spacingAndGlyphs" stroke="#111" stroke-width="0.2">Body</text>
<text x="176.2" y="993.0" font-size="10" textLength="11.3" lengthAdjust="spacingAndGlyphs" stroke="#111" stroke-width="0.2">14</text>
<text x="195.0" y="993.0" font-size="10" textLength="20.0" lengthAdjust="spacingAndGlyphs" stroke="#111" stroke-width="0.2">Stud</text>
<text x="46.3" y="1002.9" font-size="10" textLength="5.7" lengthAdjust="spacingAndGlyphs" stroke="#111" stroke-width="0.2">2</text>
<text x="60.0" y="1002.9" font-size="10" textLength="30.8" lengthAdjust="spacingAndGlyphs" stroke="#111" stroke-width="0.2">Bonnet</text>
<text x="176.2" y="1002.9" font-size="10" textLength="11.3" lengthAdjust="spacingAndGlyphs" stroke="#111" stroke-width="0.2">15</text>
<text x="195.0" y="1002.9" font-size="10" textLength="55.1" lengthAdjust="spacingAndGlyphs" stroke="#111" stroke-width="0.2">Hexagon nut</text>
<text x="46.3" y="1012.7" font-size="10" textLength="5.7" lengthAdjust="spacingAndGlyphs" stroke="#111" stroke-width="0.2">3</text>
<text x="60.0" y="1012.7" font-size="10" textLength="51.3" lengthAdjust="spacingAndGlyphs" stroke="#111" stroke-width="0.2">Hand wheel</text>
<text x="176.2" y="1012.7" font-size="10" textLength="11.3" lengthAdjust="spacingAndGlyphs" stroke="#111" stroke-width="0.2">16</text>
<text x="195.0" y="1012.7" font-size="10" textLength="55.1" lengthAdjust="spacingAndGlyphs" stroke="#111" stroke-width="0.2">Hexagon nut</text>
<text x="46.3" y="1022.6" font-size="10" textLength="5.7" lengthAdjust="spacingAndGlyphs" stroke="#111" stroke-width="0.2">4</text>
<text x="60.0" y="1022.6" font-size="10" textLength="18.9" lengthAdjust="spacingAndGlyphs" stroke="#111" stroke-width="0.2">Disc</text>
<text x="176.2" y="1022.6" font-size="10" textLength="11.3" lengthAdjust="spacingAndGlyphs" stroke="#111" stroke-width="0.2">17</text>
<text x="195.0" y="1022.6" font-size="10" textLength="55.1" lengthAdjust="spacingAndGlyphs" stroke="#111" stroke-width="0.2">Hexagon nut</text>
<text x="46.3" y="1032.4" font-size="10" textLength="5.7" lengthAdjust="spacingAndGlyphs" stroke="#111" stroke-width="0.2">5</text>
<text x="60.0" y="1032.4" font-size="10" textLength="44.7" lengthAdjust="spacingAndGlyphs" stroke="#111" stroke-width="0.2">Valve seat</text>
<text x="176.2" y="1032.4" font-size="10" textLength="11.3" lengthAdjust="spacingAndGlyphs" stroke="#111" stroke-width="0.2">18</text>
<text x="195.0" y="1032.4" font-size="10" textLength="67.0" lengthAdjust="spacingAndGlyphs" stroke="#111" stroke-width="0.2">Pounding piece</text>
<text x="46.3" y="1042.3" font-size="10" textLength="5.7" lengthAdjust="spacingAndGlyphs" stroke="#111" stroke-width="0.2">6</text>
<text x="60.0" y="1042.3" font-size="10" textLength="61.6" lengthAdjust="spacingAndGlyphs" stroke="#111" stroke-width="0.2">Screwed bush</text>
<text x="176.2" y="1042.3" font-size="10" textLength="11.3" lengthAdjust="spacingAndGlyphs" stroke="#111" stroke-width="0.2">19</text>
<text x="195.0" y="1042.3" font-size="10" textLength="96.7" lengthAdjust="spacingAndGlyphs" stroke="#111" stroke-width="0.2">Pounding piece holder</text>
<text x="46.3" y="1052.1" font-size="10" textLength="5.7" lengthAdjust="spacingAndGlyphs" stroke="#111" stroke-width="0.2">7</text>
<text x="60.0" y="1052.1" font-size="10" textLength="35.1" lengthAdjust="spacingAndGlyphs" stroke="#111" stroke-width="0.2">Disc nut</text>
<text x="176.2" y="1052.1" font-size="10" textLength="11.3" lengthAdjust="spacingAndGlyphs" stroke="#111" stroke-width="0.2">20</text>
<text x="195.0" y="1052.1" font-size="10" textLength="49.2" lengthAdjust="spacingAndGlyphs" stroke="#111" stroke-width="0.2">Straight pin</text>
<text x="46.3" y="1062.0" font-size="10" textLength="5.7" lengthAdjust="spacingAndGlyphs" stroke="#111" stroke-width="0.2">8</text>
<text x="60.0" y="1062.0" font-size="10" textLength="38.9" lengthAdjust="spacingAndGlyphs" stroke="#111" stroke-width="0.2">Seat ring</text>
<text x="176.2" y="1062.0" font-size="10" textLength="11.3" lengthAdjust="spacingAndGlyphs" stroke="#111" stroke-width="0.2">21</text>
<text x="195.0" y="1062.0" font-size="10" textLength="49.2" lengthAdjust="spacingAndGlyphs" stroke="#111" stroke-width="0.2">Straight pin</text>
<text x="46.3" y="1071.8" font-size="10" textLength="5.7" lengthAdjust="spacingAndGlyphs" stroke="#111" stroke-width="0.2">9</text>
<text x="60.0" y="1071.8" font-size="10" textLength="80.0" lengthAdjust="spacingAndGlyphs" stroke="#111" stroke-width="0.2">Packing gland ring</text>
<text x="176.2" y="1071.8" font-size="10" textLength="11.3" lengthAdjust="spacingAndGlyphs" stroke="#111" stroke-width="0.2">22</text>
<text x="195.0" y="1071.8" font-size="10" textLength="34.6" lengthAdjust="spacingAndGlyphs" stroke="#111" stroke-width="0.2">Split pin</text>
<text x="40.7" y="1081.7" font-size="10" textLength="11.3" lengthAdjust="spacingAndGlyphs" stroke="#111" stroke-width="0.2">10</text>
<text x="60.0" y="1081.7" font-size="10" textLength="22.7" lengthAdjust="spacingAndGlyphs" stroke="#111" stroke-width="0.2">Stem</text>
<text x="176.2" y="1081.7" font-size="10" textLength="11.3" lengthAdjust="spacingAndGlyphs" stroke="#111" stroke-width="0.2">23</text>
<text x="195.0" y="1081.7" font-size="10" textLength="72.9" lengthAdjust="spacingAndGlyphs" stroke="#111" stroke-width="0.2">Disc lock washer</text>
<text x="41.4" y="1091.5" font-size="10" textLength="10.6" lengthAdjust="spacingAndGlyphs" stroke="#111" stroke-width="0.2">11</text>
<text x="60.0" y="1091.5" font-size="10" textLength="61.1" lengthAdjust="spacingAndGlyphs" stroke="#111" stroke-width="0.2">Packing gland</text>
<text x="176.2" y="1091.5" font-size="10" textLength="11.3" lengthAdjust="spacingAndGlyphs" stroke="#111" stroke-width="0.2">24</text>
<text x="195.0" y="1091.5" font-size="10" textLength="34.6" lengthAdjust="spacingAndGlyphs" stroke="#111" stroke-width="0.2">Packing</text>
<text x="40.7" y="1101.4" font-size="10" textLength="11.3" lengthAdjust="spacingAndGlyphs" stroke="#111" stroke-width="0.2">12</text>
<text x="60.0" y="1101.4" font-size="10" textLength="104.3" lengthAdjust="spacingAndGlyphs" stroke="#111" stroke-width="0.2">Pounding receiver piece</text>
<text x="176.2" y="1101.4" font-size="10" textLength="11.3" lengthAdjust="spacingAndGlyphs" stroke="#111" stroke-width="0.2">25</text>
<text x="195.0" y="1101.4" font-size="10" textLength="30.8" lengthAdjust="spacingAndGlyphs" stroke="#111" stroke-width="0.2">Gasket</text>
<text x="40.7" y="1111.2" font-size="10" textLength="11.3" lengthAdjust="spacingAndGlyphs" stroke="#111" stroke-width="0.2">13</text>
<text x="60.0" y="1111.2" font-size="10" textLength="20.0" lengthAdjust="spacingAndGlyphs" stroke="#111" stroke-width="0.2">Stud</text>
<text x="176.2" y="1111.2" font-size="10" textLength="11.3" lengthAdjust="spacingAndGlyphs" stroke="#111" stroke-width="0.2">26</text>
<text x="195.0" y="1111.2" font-size="10" textLength="49.7" lengthAdjust="spacingAndGlyphs" stroke="#111" stroke-width="0.2">Name plate</text>
<defs>
<filter id="bl1" x="-5%" y="-5%" width="110%" height="110%"><feGaussianBlur stdDeviation="3.5"/></filter>
<filter id="bl2" x="-5%" y="-5%" width="110%" height="110%"><feGaussianBlur stdDeviation="3"/></filter>
<linearGradient id="gNeck" x1="0" x2="1" y1="0" y2="0"><stop offset="0" stop-color="#55564e"/><stop offset=".35" stop-color="#d6d5c8"/><stop offset=".6" stop-color="#a6a698"/><stop offset="1" stop-color="#4c4e4a"/></linearGradient>
<linearGradient id="gPipe" x1="0" x2="0" y1="0" y2="1"><stop offset="0" stop-color="#6c6e6a"/><stop offset=".3" stop-color="#cfcec2"/><stop offset=".7" stop-color="#909088"/><stop offset="1" stop-color="#3c4250"/></linearGradient>
<radialGradient id="gBody" cx=".45" cy=".4" r=".65"><stop offset="0" stop-color="#cfcdbc"/><stop offset=".5" stop-color="#8e8f86"/><stop offset="1" stop-color="#2c3342"/></radialGradient>
<linearGradient id="gFl" x1="0" x2="1" y1="0" y2="0"><stop offset="0" stop-color="#7f8ba4"/><stop offset=".5" stop-color="#3a4668"/><stop offset="1" stop-color="#869cc8"/></linearGradient>
<linearGradient id="gTealH" x1="0" x2="1" y1="0" y2="0"><stop offset="0" stop-color="#1f4a52"/><stop offset=".25" stop-color="#86c2c6"/><stop offset=".5" stop-color="#e2f3f1"/><stop offset=".78" stop-color="#74b2b6"/><stop offset="1" stop-color="#183a42"/></linearGradient>
<linearGradient id="gTealV" x1="0" x2="0" y1="0" y2="1"><stop offset="0" stop-color="#2a565e"/><stop offset=".3" stop-color="#b4dedd"/><stop offset=".6" stop-color="#7ab8bc"/><stop offset="1" stop-color="#153138"/></linearGradient>
<radialGradient id="gTealB" cx=".45" cy=".45" r=".6"><stop offset="0" stop-color="#e6f6f4"/><stop offset=".5" stop-color="#7fc2c4"/><stop offset="1" stop-color="#1f5058"/></radialGradient>
<linearGradient id="gNavyH" x1="0" x2="1" y1="0" y2="0"><stop offset="0" stop-color="#10121c"/><stop offset=".45" stop-color="#4a516c"/><stop offset=".7" stop-color="#252a40"/><stop offset="1" stop-color="#0c0e16"/></linearGradient>
<linearGradient id="gNavyV" x1="0" x2="0" y1="0" y2="1"><stop offset="0" stop-color="#141826"/><stop offset=".45" stop-color="#3a405a"/><stop offset="1" stop-color="#8d94ae"/></linearGradient>
<linearGradient id="gSilverV" x1="0" x2="0" y1="0" y2="1"><stop offset="0" stop-color="#15171f"/><stop offset=".35" stop-color="#2a2c36"/><stop offset=".55" stop-color="#c9ccd6"/><stop offset=".75" stop-color="#70737e"/><stop offset="1" stop-color="#2a2c34"/></linearGradient>
<linearGradient id="gCharH" x1="0" x2="1" y1="0" y2="0"><stop offset="0" stop-color="#17181e"/><stop offset=".4" stop-color="#484a56"/><stop offset="1" stop-color="#15161c"/></linearGradient>
<linearGradient id="gNut" x1="0" x2="1" y1="0" y2="0"><stop offset="0" stop-color="#6b6656"/><stop offset=".4" stop-color="#b9b39a"/><stop offset=".7" stop-color="#8d876f"/><stop offset="1" stop-color="#4c483c"/></linearGradient>
</defs>
<svg x="20" y="90" width="150" height="190" viewBox="0 0 922 1168"><defs>
<linearGradient id="gBon" x1="0" x2="1" y1="0" y2="0"><stop offset="0" stop-color="#252e4a"/><stop offset=".2" stop-color="#6e7270"/><stop offset=".5" stop-color="#c9c5aa"/><stop offset=".8" stop-color="#7a7a70"/><stop offset="1" stop-color="#232c48"/></linearGradient>
<linearGradient id="gFlL" x1="0" x2="1" y1="0" y2="0"><stop offset="0" stop-color="#55627e"/><stop offset=".35" stop-color="#a9aba0"/><stop offset=".7" stop-color="#6c7488"/><stop offset="1" stop-color="#2c3858"/></linearGradient>
<linearGradient id="gFlR" x1="0" x2="1" y1="0" y2="0"><stop offset="0" stop-color="#222c4a"/><stop offset=".5" stop-color="#3c4a70"/><stop offset="1" stop-color="#7a94c8"/></linearGradient>
</defs><g filter="url(#bl1)">
<ellipse cx="152" cy="820" rx="56" ry="192" fill="url(#gFlL)"/>
<ellipse cx="160" cy="940" rx="30" ry="60" fill="#7f9ccf"/>
<ellipse cx="808" cy="820" rx="52" ry="192" fill="url(#gFlR)"/>
<ellipse cx="825" cy="930" rx="24" ry="70" fill="#9ab6e6"/>
<rect x="175" y="755" width="610" height="135" fill="url(#gPipe)"/>
<ellipse cx="478" cy="822" rx="205" ry="142" fill="url(#gBody)"/>
<ellipse cx="400" cy="790" rx="70" ry="45" fill="#e6e4d2" opacity=".7"/>
<rect x="255" y="565" width="435" height="135" rx="36" fill="url(#gBon)"/>
<rect x="330" y="640" width="280" height="16" fill="#ecebc8"/>
<rect x="408" y="400" width="134" height="175" fill="url(#gNeck)"/>
<rect x="425" y="345" width="100" height="60" fill="#55564c"/>
<circle cx="345" cy="560" r="26" fill="#e2e2da"/><circle cx="615" cy="566" r="26" fill="#e2e2da"/>
<rect x="452" y="172" width="42" height="230" fill="#8b8977"/>
<rect x="205" y="200" width="546" height="44" rx="22" fill="#232a3c"/>
</g></svg>
<svg x="320" y="90" width="120" height="190" viewBox="0 0 738 1168"><g filter="url(#bl2)" stroke="#0f2a30" stroke-width="7" stroke-linejoin="round">
<ellipse cx="582" cy="720" rx="42" ry="156" fill="#0f262c"/>
<ellipse cx="570" cy="715" rx="24" ry="125" fill="#3f7f86" stroke="none"/>
<path d="M395 660H560V800H395Z" fill="url(#gTealV)"/>
<ellipse cx="308" cy="985" rx="165" ry="50" fill="#12323a"/>
<ellipse cx="306" cy="968" rx="150" ry="34" fill="#4b8f96" stroke="none"/>
<path d="M190 625Q165 720 235 830V960H400V625Z" fill="url(#gTealH)"/>
<ellipse cx="285" cy="720" rx="70" ry="70" fill="#e4f4f2" stroke="none" opacity=".55"/>
<rect x="145" y="530" width="322" height="95" rx="28" fill="url(#gTealV)"/>
<rect x="243" y="378" width="114" height="152" fill="url(#gTealH)"/>
<circle cx="188" cy="520" r="19" fill="#e8f4f2"/><circle cx="425" cy="518" r="19" fill="#e8f4f2"/>
<rect x="195" y="345" width="215" height="36" rx="8" fill="#f4f8f6" stroke-width="9"/>
<rect x="198" y="268" width="210" height="34" rx="8" fill="#f4f8f6" stroke-width="9"/>
<rect x="222" y="300" width="14" height="48" fill="#10262c" stroke="none"/><rect x="370" y="300" width="14" height="48" fill="#10262c" stroke="none"/><rect x="268" y="300" width="12" height="48" fill="#8fc4c6" stroke="none"/><rect x="322" y="300" width="12" height="48" fill="#8fc4c6" stroke="none"/>
<rect x="288" y="205" width="20" height="68" fill="#2a3a3e" stroke="none"/>
<ellipse cx="298" cy="172" rx="198" ry="48" fill="#07090b" stroke="none"/>
</g></svg>
<svg x="715" y="0" width="120" height="130" viewBox="0 0 1078 1168"><g filter="url(#bl1)">
<ellipse cx="245" cy="810" rx="82" ry="215" fill="#0e1018"/>
<rect x="165" y="700" width="70" height="230" fill="#b9bcc8"/>
<ellipse cx="262" cy="810" rx="58" ry="215" fill="#0e1018"/>
<ellipse cx="895" cy="830" rx="55" ry="222" fill="#14161e"/>
<rect x="860" y="770" width="85" height="220" fill="#c6c8d2"/>
<rect x="880" y="620" width="60" height="140" fill="#10121a"/>
<rect x="300" y="745" width="570" height="148" fill="url(#gNavyV)"/>
<polygon points="640,520 700,560 880,760 640,800" fill="#161a28"/>
<rect x="448" y="460" width="205" height="460" rx="40" fill="url(#gNavyH)"/>
<rect x="488" y="320" width="165" height="160" rx="20" fill="#11141f"/>
<rect x="490" y="482" width="136" height="98" fill="#e4e6ea"/>
<circle cx="525" cy="545" r="16" fill="#555a6a"/><circle cx="592" cy="545" r="16" fill="#555a6a"/>
<rect x="478" y="225" width="168" height="98" fill="url(#gNut)"/>
<rect x="545" y="125" width="46" height="105" fill="#b19b52"/>
<rect x="298" y="52" width="535" height="68" rx="34" fill="#07080c"/>
<rect x="548" y="10" width="36" height="50" fill="#20222a"/>
</g></svg>
<svg x="870" y="115" width="110" height="140" viewBox="0 0 918 1168"><g filter="url(#bl1)">
<ellipse cx="395" cy="1000" rx="250" ry="88" fill="#101116"/>
<ellipse cx="395" cy="1040" rx="210" ry="45" fill="#b4b6be"/>
<ellipse cx="395" cy="985" rx="240" ry="70" fill="#1b1c22"/>
<rect x="700" y="495" width="110" height="420" rx="30" fill="url(#gSilverV)"/>
<rect x="470" y="640" width="250" height="135" fill="url(#gCharH)"/>
<rect x="320" y="800" width="160" height="170" fill="url(#gCharH)"/>
<rect x="283" y="440" width="230" height="385" rx="50" fill="url(#gCharH)"/>
<rect x="296" y="515" width="146" height="90" fill="#c8cad0"/>
<circle cx="330" cy="570" r="17" fill="#4a4c56"/><circle cx="410" cy="570" r="17" fill="#4a4c56"/>
<rect x="340" y="375" width="118" height="75" fill="#5e5f66"/>
<rect x="295" y="290" width="186" height="96" rx="10" fill="url(#gNut)"/>
<rect x="366" y="212" width="50" height="90" fill="#8d8c84"/>
<ellipse cx="385" cy="180" rx="282" ry="62" fill="#08090c"/>
<circle cx="380" cy="110" r="18" fill="#777"/>
</g></svg>
<svg x="170" y="88" width="140" height="97" viewBox="0 0 1200 831" overflow="visible"><g stroke="#141414" fill="none" stroke-linecap="round" stroke-linejoin="round" stroke-width="10.5">
<path d="M517 35V831" stroke-dasharray="60 12 10 12" stroke-width="6"/>
<path d="M95 182H905" stroke-dasharray="70 12 10 12" stroke-width="6"/>
<path d="M190 120V258M845 118V252" stroke-width="6"/>
<path d="M470 125V88Q517 28 565 88V125M490 68V125M545 68V125M470 98H565"/>
<path d="M400 150V125Q400 118 410 118H625Q632 118 632 125V150"/>
<path d="M385 150H650V250H385ZM440 150V250M482 150V250M552 150V250M600 150V250M440 200H600"/>
<path d="M222 142H385M650 142H815M232 208L385 242M806 208L650 242"/>
<circle cx="190" cy="182" r="40"/><circle cx="845" cy="182" r="40"/>
<path d="M488 250V831M548 250V831"/>
<path d="M488 345H430V388Q455 395 455 420V470M548 345H622V372Q582 385 580 415V470"/>
<path d="M612 365V322H690V365ZM625 322Q648 285 675 322M630 365V488M665 365V488M615 488H690V518H615ZM650 518V568M640 300V365" />
<path d="M425 470V620Q415 690 395 740Q385 755 335 755M455 470V640M470 470V715M565 470V715M580 470V640M605 470V620Q615 700 640 745Q650 757 700 757H820V831"/>
<path d="M425 470H470M565 470H605M455 560H470M565 560H580M455 640H470M565 640H580"/>
<path d="M225 755V715Q280 650 330 715V755M250 700V831M300 700V831M225 755H335M205 765V831M205 765H315V831"/>
<path d="M450 715H585M450 715V831M585 715V831M470 715Q480 700 488 715M548 715Q556 700 565 715"/>
</g></svg>
<svg x="170" y="178" width="140" height="97" viewBox="0 0 1200 831" overflow="visible"><g stroke="#141414" fill="none" stroke-linecap="round" stroke-linejoin="round" stroke-width="10.5">
<path d="M517 0V728" stroke-dasharray="60 12 10 12" stroke-width="6"/>
<path d="M10 418H1010" stroke-dasharray="90 14 12 14" stroke-width="7"/>
<path d="M205 0V140H300V150M250 0V150M300 0V110M205 75H300"/>
<path d="M315 0V60Q320 90 365 92V190Q340 250 270 292L350 378Q375 392 392 372"/>
<path d="M450 0V92H365M585 0V60Q600 95 680 92M585 30Q640 40 640 60V85M488 0V178M548 0V178"/>
<path d="M820 0V140H740Q725 145 728 180Q760 262 860 265Q895 262 895 232V125H968V715H895V600Q890 570 850 568"/>
<path d="M680 92V190Q690 230 760 290Q790 318 830 318H985"/>
<path d="M75 130H145V235Q150 268 200 270Q250 270 270 292M75 130V720H140V600Q145 570 185 570H230Q350 665 517 672Q700 668 830 566"/>
<path d="M75 320H215L350 440Q390 470 400 480M75 520H210Q350 610 517 628Q650 620 770 520H985"/>
<path d="M430 300V200H600V300M460 335V215H575V335M488 178H548M445 335Q440 360 460 362H575Q595 360 590 335ZM470 348H565"/>
<path d="M385 372Q390 335 445 335M590 335Q650 340 655 372M385 372V440Q400 500 470 505M655 372V440Q640 500 565 505M410 385V450M630 385V450M430 420Q440 470 488 470M605 420Q595 470 548 470"/>
<path d="M488 390V590Q517 610 548 590V390"/>
<path d="M670 240Q760 320 778 400Q790 470 720 560Q680 610 640 630M720 285Q760 340 770 400M655 372Q760 430 775 520"/>
<path d="M895 600H968M870 652H990M905 690H960M920 640V665" stroke-width="6"/>
</g></svg>
<svg x="435" y="88" width="140" height="97" viewBox="0 0 1200 831" overflow="visible"><g stroke="#141414" fill="none" stroke-linecap="round" stroke-linejoin="round" stroke-width="10.5">
<path d="M478 25V831" stroke-dasharray="60 12 10 12" stroke-width="6"/>
<path d="M35 168H880" stroke-dasharray="70 12 10 12" stroke-width="6"/>
<path d="M133 105V255M810 105V255" stroke-width="6"/>
<path d="M430 122V88Q478 20 526 88V122M450 62V122M505 62V122M430 96H526"/>
<path d="M360 126H595" stroke-width="12"/>
<path d="M165 132H792M172 202Q260 215 320 238Q350 252 390 252H575Q620 250 645 236Q700 215 775 202"/>
<path d="M340 135V240M390 140V250M440 135V250M520 135V250M570 140V250M620 135V238M390 190H570"/>
<circle cx="133" cy="168" r="38"/><circle cx="810" cy="168" r="38"/>
<path d="M440 250V831M520 250V831"/>
<path d="M440 345H398Q388 350 390 388Q410 395 410 420V470M520 345H600M520 392H562Q545 405 545 430V470"/>
<path d="M570 365V322H650V365ZM582 322Q610 280 640 322M590 365V485M625 365V485M575 485H650V525H575ZM610 525V552M600 300V365"/>
<path d="M390 470V620Q380 690 358 742Q350 755 295 755M410 470V640M425 470V715M505 470V715M545 470V640M545 470H600M570 520V635Q580 710 610 748Q620 757 680 757H780Q798 760 800 790V831"/>
<path d="M390 470H425M410 560H425M505 560H545M410 640H425M505 640H545"/>
<path d="M180 755V715Q237 640 295 715V755M210 690V831M262 690V831M180 755H295M165 765V831M165 765H272V831"/>
<path d="M415 715H545M415 715V831M545 715V831"/>
<path d="M870 831V775Q872 760 890 760H928Q945 760 945 775V831"/>
</g></svg>
<svg x="435" y="178" width="140" height="97" viewBox="0 0 1200 831" overflow="visible"><g stroke="#141414" fill="none" stroke-linecap="round" stroke-linejoin="round" stroke-width="10.5">
<path d="M478 0V822" stroke-dasharray="60 12 10 12" stroke-width="6"/>
<path d="M120 275H1000" stroke-width="8"/>
<path d="M165 0V150H272V0M210 0V150M250 0V160M165 80H272"/>
<path d="M290 0V60Q300 90 330 92Q200 170 190 270Q195 340 262 425L332 640Q300 660 210 660Q192 662 192 680V715Q195 730 215 732H770Q790 730 790 712V690Q788 670 765 668H705Q660 650 652 615L722 420Q795 330 790 255Q770 150 650 95Q640 70 620 70"/>
<path d="M345 150Q240 200 235 270Q245 340 300 382H345M335 95Q385 60 400 95V110M620 150Q745 200 750 275Q740 340 700 382"/>
<path d="M415 0V92M545 0V92M440 0V180M520 0V180M400 92H545M545 60Q575 50 590 70H680V0"/>
<path d="M800 0V90Q805 118 835 118Q868 118 870 90V0M950 0V470M750 172H950M765 375H950M735 432Q840 425 870 460L880 482V545Q882 558 900 558H930Q945 556 945 540V482"/>
<path d="M400 330V200H565V330M420 335V215H545V335M410 335Q405 356 425 358H535Q555 356 550 335ZM435 346H525"/>
<path d="M345 382Q360 345 410 335M550 335Q600 345 612 382M345 382V440Q370 500 455 505M612 382V440Q590 500 505 505M370 395V450M590 395V450M390 420Q410 470 455 470M570 420Q550 470 505 470"/>
<path d="M455 400V595Q478 610 505 595V400"/>
<path d="M332 462L385 645V730M630 462L600 645V730M385 645H600"/>
<path d="M880 500H945M880 530H945M700 690H790" stroke-width="6"/>
</g></svg>
<svg x="615" y="140" width="100" height="110" viewBox="0 0 1062 1168" overflow="visible"><g stroke="#141414" fill="none" stroke-linecap="round" stroke-linejoin="round" stroke-width="12">
<path d="M513 80V1100" stroke-dasharray="70 14 12 14" stroke-width="7"/>
<path d="M190 195H832" stroke-width="7"/>
<path d="M270 135V255M757 135V255" stroke-width="7"/>
<circle cx="270" cy="195" r="36"/><circle cx="757" cy="195" r="36"/>
<path d="M280 160H747M280 232H747M330 185H423M608 187H702M608 207H702"/>
<ellipse cx="513" cy="195" rx="82" ry="52" fill="#fff"/>
<path d="M468 145V245M491 140V247M538 140V247M561 145V245M433 190H593M443 220H583" stroke-width="9"/>
<path d="M413 150H653" stroke-width="12"/>
<path d="M480 140V110Q513 70 548 110V140M480 115H548" stroke-width="10"/>
<path d="M490 245V640M540 245V640"/>

<path d="M415 440V335Q415 322 430 322H595Q608 322 608 335V440M440 440V355H585V440M465 355V540M565 355V540M415 440H440M585 440H608M465 540H490M540 540H565"/>
<path d="M453 367V432M575 367V432M473 462V522M557 462V522" stroke-width="14"/>

<path d="M430 440V520L410 545V600M610 440V520L630 560V640L652 665V760"/>
<path d="M410 600Q350 600 350 650Q350 700 375 700M360 640H400M375 700V920M410 600V640H420V920"/>
<path d="M470 640V790M560 640V790M470 640H610M600 640V800M470 790Q513 770 560 790"/>
<path d="M445 830Q445 795 480 795H550Q580 795 580 830V880Q570 930 513 965Q455 930 445 880ZM450 850H578M455 880H572" stroke-width="11"/>
<path d="M600 800L700 1040M640 815L745 960M652 760L760 930M560 790L600 830"/>
<path d="M440 1010L513 1090L590 1010M420 920Q430 960 470 975"/>

<path d="M55 1015H520" stroke-width="7"/>
<path d="M130 945H235V975H375M130 945V1085H235M235 920V1105M290 930V1100M235 1105L250 1085H290M235 920L250 940H290M300 975V1080M130 1045H470M300 1080H760M210 960V1075"/>

<path d="M520 1015H920" stroke-width="7"/>
<path d="M745 960L800 920Q860 900 895 915L905 960M760 1080L800 1110Q860 1125 900 1105L910 1065M780 975H900V1055H780ZM830 975V1055M870 975V1055M745 960Q735 1000 760 1080M895 915L890 960M900 1105L890 1060"/>
<path d="M800 925L890 910M805 1108L895 1112" stroke-width="12"/>
</g></svg>
<svg x="700" y="140" width="100" height="110" viewBox="0 0 1062 1168" overflow="visible"><g stroke="#141414" fill="none" stroke-linecap="round" stroke-linejoin="round" stroke-width="12">
<path d="M525 95V1115" stroke-dasharray="70 14 12 14" stroke-width="7"/>
<path d="M202 210H844" stroke-width="7"/>
<path d="M282 150V270M769 150V270" stroke-width="7"/>
<circle cx="282" cy="210" r="36"/><circle cx="769" cy="210" r="36"/>
<path d="M292 175H759M292 247H759M342 200H435M620 202H714M620 222H714"/>
<ellipse cx="525" cy="210" rx="82" ry="52" fill="#fff"/>
<path d="M480 160V260M503 155V262M550 155V262M573 160V260M445 205H605M455 235H595" stroke-width="9"/>
<path d="M425 165H665" stroke-width="12"/>
<path d="M492 155V125Q525 85 560 125V155M492 130H560" stroke-width="10"/>
<path d="M502 260V655M552 260V655"/>

<path d="M427 455V350Q427 337 442 337H607Q620 337 620 350V455M452 455V370H597V455M477 370V555M577 370V555M427 455H452M597 455H620M477 555H502M552 555H577"/>
<path d="M465 382V447M587 382V447M485 477V537M569 477V537" stroke-width="14"/>
<g transform="translate(12,15)">
<path d="M430 440V520L410 545V600M610 440V520L630 560V640L652 665V760"/>
<path d="M410 600Q350 600 350 650Q350 700 375 700M360 640H400M375 700V920M410 600V640H420V920"/>
<path d="M470 640V790M560 640V790M470 640H610M600 640V800M470 790Q513 770 560 790"/>
<path d="M445 830Q445 795 480 795H550Q580 795 580 830V880Q570 930 513 965Q455 930 445 880ZM450 850H578M455 880H572" stroke-width="11"/>
<path d="M600 800L700 1040M640 815L745 960M652 760L760 930M560 790L600 830"/>
<path d="M440 1010L513 1090L590 1010M420 920Q430 960 470 975"/>

<path d="M520 1015H920" stroke-width="7"/>
<path d="M745 960L800 920Q860 900 895 915L905 960M760 1080L800 1110Q860 1125 900 1105L910 1065M780 975H900V1055H780ZM830 975V1055M870 975V1055M745 960Q735 1000 760 1080M895 915L890 960M900 1105L890 1060"/>
<path d="M800 925L890 910M805 1108L895 1112" stroke-width="12"/>
</g><g transform="translate(1038,15) scale(-1,1)">
<path d="M520 1015H920" stroke-width="7"/>
<path d="M745 960L800 920Q860 900 895 915L905 960M760 1080L800 1110Q860 1125 900 1105L910 1065M780 975H900V1055H780ZM830 975V1055M870 975V1055M745 960Q735 1000 760 1080M895 915L890 960M900 1105L890 1060"/>
<path d="M800 925L890 910M805 1108L895 1112" stroke-width="12"/>
<path d="M745 960H640M760 1080H590"/></g></g></svg>
<svg x="780" y="140" width="100" height="110" viewBox="0 0 1062 1168" overflow="visible"><g stroke="#141414" fill="none" stroke-linecap="round" stroke-linejoin="round" stroke-width="12">
<path d="M510 73V1093" stroke-dasharray="70 14 12 14" stroke-width="7"/>
<path d="M208 188H807" stroke-width="7"/>
<path d="M288 128V248M732 128V248" stroke-width="7"/>
<circle cx="288" cy="188" r="36"/><circle cx="732" cy="188" r="36"/>
<path d="M298 153H722M298 225H722M348 178H420M605 180H677M605 200H677"/>
<ellipse cx="510" cy="188" rx="82" ry="52" fill="#fff"/>
<path d="M465 138V238M488 133V240M535 133V240M558 138V238M430 183H590M440 213H580" stroke-width="9"/>
<path d="M410 143H650" stroke-width="12"/>
<path d="M477 133V103Q510 63 545 103V133M477 108H545" stroke-width="10"/>
<path d="M487 238V633M537 238V633"/>

<path d="M412 418V313Q412 300 427 300H592Q605 300 605 313V418M437 418V333H582V418M462 333V518M562 333V518M412 418H437M582 418H605M462 518H487M537 518H562"/>
<path d="M450 345V410M572 345V410M470 440V500M554 440V500" stroke-width="14"/>

<path d="M415 410V480H440V560M600 400V480H585V560M380 565H630M380 565V610L355 628L385 645M395 600V830M430 585V800M630 585V760M470 585V790H555V585M430 700Q445 740 470 760M555 700Q600 720 600 760"/>
<path d="M470 790L510 880L555 790M395 830L510 990L590 850M430 800L510 930M555 760L650 930M600 760L690 900M630 760L720 880"/>
<path d="M205 1168V720Q205 700 225 700H250Q270 700 270 720V850Q275 880 310 885H395"/>
<path d="M770 720Q770 695 790 695H815Q835 695 835 720V1168M770 720V850Q765 880 730 885M205 905H835M205 975H770M285 1000H740M285 1000V1168M740 1000Q775 1020 775 1060V1168"/>
<path d="M150 940H880" stroke-width="7"/>
<path d="M745 770H870M745 1105H870" stroke-width="7"/>
<path d="M775 1080H835M775 1130H835" stroke-width="12"/>
<path d="M205 1160H285M775 1160H835"/>
</g></svg>
<svg x="965" y="95" width="120" height="165" viewBox="0 0 849 1168" overflow="visible"><g stroke="#141414" fill="none" stroke-linecap="round" stroke-linejoin="round" stroke-width="10.5">
<path d="M360 35V1140" stroke-dasharray="60 12 10 12" stroke-width="5"/>
<path d="M50 148H660" stroke-width="5"/>
<path d="M130 90V222M580 90V222" stroke-width="5"/>
<path d="M130 110H590Q622 125 622 148Q622 172 590 186H130Q96 172 96 148Q96 125 130 110Z"/>
<path d="M160 125V175M545 125V172M160 150H270M450 150H545M230 120L280 120M230 130H290" />
<path d="M280 100H440V195H280ZM310 100V195M335 100V195M385 100V195M410 100V195"/>
<path d="M255 102H465" stroke-width="11"/>
<ellipse cx="360" cy="72" rx="50" ry="14"/>
<path d="M335 195V560M385 195V560"/>
<path d="M265 375V285Q265 270 280 270H445Q460 270 460 285V375M290 375V295H435V375M310 295V450M412 295V450M265 375H290M435 375H460"/>
<path d="M300 310V370M425 310V370M320 400V440M400 400V440" stroke-width="11"/>
<path d="M285 375V450L265 470V520H228Q205 540 200 580Q215 610 240 620M200 580H225M440 375V450L460 480V530L490 552V730"/>
<path d="M240 620V800Q250 880 312 910M275 560V810H320M320 560V700H405V560M275 560H460M460 560V730M405 650H460"/>
<ellipse cx="365" cy="748" rx="66" ry="24"/>
<path d="M300 770V795L330 840H400L425 795V770M300 795H425"/>
<path d="M312 910L285 935V1010L300 1030V1110H440V1030L455 1010V935L420 910Q470 880 490 840M285 1010H455M300 1030H440M335 840V1110M385 840V1110"/>
<path d="M290 775H810" stroke-dasharray="50 10 10 10" stroke-width="5"/>
<path d="M430 742H780M430 810H780M780 742L770 775L780 810M490 730L560 692H665M560 692L600 720L640 700M490 840L560 852L640 872M560 852L600 830L640 850M555 742Q520 775 555 810M660 742V880M640 742V810"/>
</g></svg>
<svg x="1075" y="95" width="120" height="165" viewBox="0 0 849 1168" overflow="visible"><g stroke="#141414" fill="none" stroke-linecap="round" stroke-linejoin="round" stroke-width="10.5">
<path d="M320 40V1050" stroke-dasharray="60 12 10 12" stroke-width="5"/>
<path d="M60 148H555" stroke-width="5"/>
<path d="M133 100V196M510 100V196" stroke-width="5"/>
<circle cx="133" cy="148" r="28"/><circle cx="510" cy="148" r="28"/>
<path d="M140 121H505M140 176H505M170 140H230M405 140H480M405 158H480"/>
<path d="M235 110H400V186H235ZM265 110V186M300 110V186M340 110V186M372 110V186"/>
<path d="M225 112H410" stroke-width="11"/>
<path d="M288 108V90Q320 45 352 90V108"/>
<path d="M300 186V500M340 186V500"/>
<path d="M245 340V262Q245 250 258 250H382Q395 250 395 262V340M268 340V272H372V340M285 272V400M355 272V400M245 340H268M372 340H395"/>
<path d="M278 285V335M362 285V335M292 360V395M350 360V395" stroke-width="11"/>
<path d="M265 340V400L245 420V470H205Q188 495 185 520Q198 550 215 560M375 340L385 420Q400 460 420 482V620"/>
<path d="M245 470H420M215 560L230 740Q240 775 270 790V950M255 490V720Q262 750 290 760M290 490V590M350 490V590M385 490V640"/>
<path d="M265 610Q265 590 285 590H365Q385 590 385 610V680Q385 700 365 700H285Q265 700 265 680Z"/>
<path d="M290 700V760M350 700L385 740M420 620Q425 645 450 645H550Q585 640 590 600V485H645V900H590V790Q585 750 550 745H400Q380 760 375 790V950"/>
<path d="M385 655H640M385 738H560" />
<path d="M385 698H680" stroke-dasharray="50 10 10 10" stroke-width="5"/>
<path d="M540 805H645M540 805V870H590M590 870V900"/>
<path d="M270 950Q260 962 240 962H140Q125 962 125 975V1005Q125 1020 140 1020H510Q525 1020 525 1005V975Q525 962 510 962H490V940H440V962H400Q380 962 375 950M300 500V1020M345 700V1020M440 962V1020M490 962V1020"/>
</g></svg>
<svg x="60" y="765" width="150" height="105" viewBox="0 0 1200 840" overflow="visible"><g stroke="#141414" fill="none" stroke-linecap="round" stroke-linejoin="round" stroke-width="10.5">
<path d="M540 140V840" stroke-dasharray="80 14 12 14" stroke-width="8"/>
<path d="M165 275H910" stroke-dasharray="70 14 12 14" stroke-width="8"/>
<path d="M235 215V335M845 225V340" stroke-width="8"/>
<ellipse cx="235" cy="275" rx="37" ry="40"/><ellipse cx="845" cy="278" rx="37" ry="40"/>
<path d="M268 247H410M268 305H415M680 247H812M675 308H812"/>
<path d="M410 235V300Q415 335 450 340H480M680 235V300Q670 335 640 340H600M410 235H680M450 240V335M480 240V340M600 240V340M640 240V335"/>
<path d="M430 222H645" stroke-width="14"/>
<path d="M495 222V190H580V222M520 190V222M555 190V222"/>
<circle cx="425" cy="262" r="18"/><circle cx="655" cy="262" r="16"/>
<path d="M510 225V840M570 225V840"/>
<path d="M510 430H490Q455 435 455 460Q460 485 490 485L480 520V545M570 430H690M570 430Q600 440 600 470Q590 485 605 490V600"/>
<path d="M630 430V405Q660 385 690 405V430M630 430V590H690V430M630 470H690M630 510H690M630 550H690M700 560V590"/>
<path d="M450 545H480V680H450ZM480 560H510M480 600H510M480 640H510M575 480V700M575 520H605M575 560H605M575 640H600M575 680H600"/>
<path d="M450 680Q440 760 425 800Q415 818 385 818H365M615 600Q615 700 635 785Q645 815 700 815H800Q815 818 822 840"/>
<path d="M265 840V785H360V840M285 785Q320 730 350 785M300 760V840M335 760V840"/>
<path d="M480 840V790H510M570 790H600V840"/>
</g></svg>
<svg x="60" y="860" width="150" height="105" viewBox="0 0 1200 840" overflow="visible"><g stroke="#141414" fill="none" stroke-linecap="round" stroke-linejoin="round" stroke-width="10.5">
<path d="M540 0V765" stroke-dasharray="80 14 12 14" stroke-width="8"/>
<path d="M75 460H1015" stroke-dasharray="110 16 14 16" stroke-width="9"/>
<path d="M250 60V200H345V60M250 0V60M300 0V200M335 0V140M345 140Q370 145 372 165Q368 185 345 185"/>
<path d="M360 0V40Q365 55 395 55H440V0M395 55V135M395 135H480M480 0V150M600 0V150M600 150H700M480 150V180M600 110H625V160"/>
<path d="M640 0Q645 45 680 50H810Q830 52 830 75V170Q828 190 805 192H760Q735 195 735 225Q740 250 770 275Q810 315 850 308Q885 300 888 260V200Q890 182 910 182H930Q950 184 950 205V300"/>
<path d="M680 150V260Q700 300 770 345Q800 360 960 358"/>
<path d="M125 200H170Q190 202 190 225V275Q200 315 250 320Q300 315 350 250L395 135"/>
<path d="M125 200V745H190V640Q195 600 235 592H270Q400 690 540 700Q700 695 810 605Q830 590 870 600Q888 610 890 640V715Q892 735 912 735H935Q955 733 955 715V640M960 300V600"/>
<path d="M125 355H290L400 470Q440 510 470 535M125 560H270Q400 650 540 660Q640 655 760 560H960"/>
<path d="M300 360L380 300Q420 280 470 282M310 365L390 420L420 395"/>
<path d="M480 390V250H600V390M500 390V262M580 390V262M465 395Q460 412 480 415H600Q620 412 615 395ZM485 404H595" />
<path d="M420 420Q430 395 465 395M615 395Q660 400 665 430M420 420V480Q440 540 500 550M665 430V480Q650 540 585 550M445 440V490M640 440V490M470 470Q480 510 515 515M610 470Q600 510 565 515M500 500V550M585 500V550"/>
<path d="M515 415V635Q540 650 565 635V415"/>
<path d="M680 290Q760 360 775 440Q780 520 720 600Q690 635 660 650M720 330Q760 390 765 440M665 430Q760 480 780 560L740 610"/>
<path d="M865 680H990M895 715H950" stroke-width="8"/>
<path d="M600 60H640M620 110L680 105" />
</g></svg>
<svg x="30" y="760" width="280" height="205" viewBox="0 0 1200 879" overflow="visible"><g stroke="#141414" fill="none" stroke-linecap="round" stroke-linejoin="round" stroke-width="6.5"><path d="M171 168 L331 223 L386 206"/><path d="M163 197 L323 239 L386 229"/><path d="M156 236 L371 261"/><path d="M159 277 L386 300"/><path d="M153 317 L371 341"/><path d="M220 370 L386 386"/><path d="M168 407 L278 432"/><path d="M168 443 L267 443"/><path d="M223 503 L295 517"/><path d="M160 531 L372 569"/><path d="M157 569 L372 575"/><path d="M146 608 L300 624 L339 641"/><path d="M152 657 L350 702"/><path d="M152 699 L185 704"/><path d="M675 140 L598 165"/><path d="M658 201 L504 242"/><path d="M636 256 L498 278"/><path d="M664 333 L443 366"/><path d="M625 404 L460 443"/><path d="M620 459 L465 492"/><path d="M312 80 L365 150"/><path d="M375 85 L408 125"/><path d="M454 84 L428 124"/><path d="M510 79 L467 141"/><path d="M300 116 L350 160"/><path d="M521 116 L489 150"/><path d="M832 430 L850 400"/><path d="M885 717 L925 752"/><path d="M1020 707 L985 732"/><path d="M825 385H1115" stroke-width="4"/><circle cx="855" cy="385" r="19"/><circle cx="1085" cy="385" r="19"/>
<path d="M855 355V415M1085 355V415" stroke-width="4"/>
<path d="M872 369H950M872 401H950M990 369H1068M990 401H1068M950 355H990M950 355V455M990 355V455M970 335V460M930 369V375M1010 369V375M958 355L970 338L982 355"/>
<path d="M953 625V820" stroke-width="4"/>
<path d="M935 635V690M975 635V690M935 690Q915 700 918 730L935 745H975L990 730Q992 700 975 690M930 720H980M890 750H1018M885 787H1032M925 750V787M985 750V787M918 730Q905 745 900 750M990 730Q1005 745 1010 750"/></g></svg>
<text x="93.5" y="775.6" font-size="10.5" textLength="12.0" lengthAdjust="spacingAndGlyphs" stroke="#111" stroke-width="0.4">12</text>
<text x="109.1" y="776.1" font-size="10.5" textLength="12.0" lengthAdjust="spacingAndGlyphs" stroke="#111" stroke-width="0.4">22</text>
<text x="132.0" y="775.2" font-size="10.5" textLength="12.0" lengthAdjust="spacingAndGlyphs" stroke="#111" stroke-width="0.4">17</text>
<text x="149.3" y="775.6" font-size="10.5" textLength="12.0" lengthAdjust="spacingAndGlyphs" stroke="#111" stroke-width="0.4">26</text>
<text x="89.5" y="786.4" font-size="10.5" textLength="12.0" lengthAdjust="spacingAndGlyphs" stroke="#111" stroke-width="0.4">18</text>
<text x="153.0" y="787.1" font-size="10.5" textLength="12.0" lengthAdjust="spacingAndGlyphs" stroke="#111" stroke-width="0.4">20</text>
<text x="189.4" y="792.2" font-size="10.5" textLength="6.0" lengthAdjust="spacingAndGlyphs" stroke="#111" stroke-width="0.4">3</text>
<text x="56.4" y="797.1" font-size="10.5" textLength="12.0" lengthAdjust="spacingAndGlyphs" stroke="#111" stroke-width="0.4">19</text>
<text x="54.3" y="808.1" font-size="10.5" textLength="12.0" lengthAdjust="spacingAndGlyphs" stroke="#111" stroke-width="0.4">10</text>
<text x="53.6" y="817.2" font-size="10.5" textLength="11.2" lengthAdjust="spacingAndGlyphs" stroke="#111" stroke-width="0.4">11</text>
<text x="57.6" y="826.7" font-size="10.5" textLength="6.0" lengthAdjust="spacingAndGlyphs" stroke="#111" stroke-width="0.4">9</text>
<text x="56.6" y="837.5" font-size="10.5" textLength="6.0" lengthAdjust="spacingAndGlyphs" stroke="#111" stroke-width="0.4">2</text>
<text x="72.7" y="847.3" font-size="10.5" textLength="6.0" lengthAdjust="spacingAndGlyphs" stroke="#111" stroke-width="0.4">8</text>
<text x="55.5" y="853.8" font-size="10.5" textLength="12.0" lengthAdjust="spacingAndGlyphs" stroke="#111" stroke-width="0.4">13</text>
<text x="55.7" y="865.2" font-size="10.5" textLength="12.0" lengthAdjust="spacingAndGlyphs" stroke="#111" stroke-width="0.4">15</text>
<text x="69.0" y="878.8" font-size="10.5" textLength="12.0" lengthAdjust="spacingAndGlyphs" stroke="#111" stroke-width="0.4">25</text>
<text x="59.9" y="886.5" font-size="10.5" textLength="6.0" lengthAdjust="spacingAndGlyphs" stroke="#111" stroke-width="0.4">7</text>
<text x="53.6" y="895.3" font-size="10.5" textLength="12.0" lengthAdjust="spacingAndGlyphs" stroke="#111" stroke-width="0.4">23</text>
<text x="56.6" y="905.8" font-size="10.5" textLength="6.0" lengthAdjust="spacingAndGlyphs" stroke="#111" stroke-width="0.4">4</text>
<text x="56.6" y="917.3" font-size="10.5" textLength="6.0" lengthAdjust="spacingAndGlyphs" stroke="#111" stroke-width="0.4">5</text>
<text x="55.9" y="926.8" font-size="10.5" textLength="6.0" lengthAdjust="spacingAndGlyphs" stroke="#111" stroke-width="0.4">1</text>
<text x="184.0" y="806.9" font-size="10.5" textLength="12.0" lengthAdjust="spacingAndGlyphs" stroke="#111" stroke-width="0.4">16</text>
<text x="177.5" y="820.4" font-size="10.5" textLength="12.0" lengthAdjust="spacingAndGlyphs" stroke="#111" stroke-width="0.4">14</text>
<text x="185.0" y="839.6" font-size="10.5" textLength="12.0" lengthAdjust="spacingAndGlyphs" stroke="#111" stroke-width="0.4">24</text>
<text x="176.8" y="853.1" font-size="10.5" textLength="6.0" lengthAdjust="spacingAndGlyphs" stroke="#111" stroke-width="0.4">6</text>
<text x="174.9" y="868.5" font-size="10.5" textLength="12.0" lengthAdjust="spacingAndGlyphs" stroke="#111" stroke-width="0.4">21</text>
<text x="217.8" y="868.5" font-size="10.5" textLength="6.0" lengthAdjust="spacingAndGlyphs" stroke="#111" stroke-width="0.4">3</text>
<text x="230.0" y="926.4" font-size="10.5" textLength="6.0" lengthAdjust="spacingAndGlyphs" stroke="#111" stroke-width="0.4">5</text>
<text x="268.9" y="925.2" font-size="10.5" textLength="6.0" lengthAdjust="spacingAndGlyphs" stroke="#111" stroke-width="0.4">4</text>
<text x="646.4" y="139.1" font-size="10.6" textLength="34.6" lengthAdjust="spacingAndGlyphs" fill="#222" stroke="#222" stroke-width="0.2">S-Type</text>
<text x="732.0" y="139.5" font-size="10.6" textLength="35.8" lengthAdjust="spacingAndGlyphs" fill="#222" stroke="#222" stroke-width="0.2">U-Type</text>
<text x="809.6" y="139.5" font-size="10.6" textLength="34.0" lengthAdjust="spacingAndGlyphs" fill="#222" stroke="#222" stroke-width="0.2">F-Type</text>
<text x="641.4" y="257.6" font-size="10.6" textLength="42.6" lengthAdjust="spacingAndGlyphs" fill="#222" stroke="#222" stroke-width="0.2">6-10mm</text>
<text x="728.8" y="258.7" font-size="10.6" textLength="42.2" lengthAdjust="spacingAndGlyphs" fill="#222" stroke="#222" stroke-width="0.2">6-10mm</text>
<text x="804.2" y="263.0" font-size="10.6" textLength="47.0" lengthAdjust="spacingAndGlyphs" fill="#222" stroke="#222" stroke-width="0.2">15-25mm</text>
<text x="996.8" y="92.6" font-size="10.6" textLength="35.7" lengthAdjust="spacingAndGlyphs" fill="#222" stroke="#222" stroke-width="0.2">S-Type</text>
<text x="1103.8" y="93.4" font-size="10.6" textLength="34.5" lengthAdjust="spacingAndGlyphs" fill="#222" stroke="#222" stroke-width="0.2">F-Type</text>
<text x="998.3" y="267.4" font-size="10.6" textLength="42.2" lengthAdjust="spacingAndGlyphs" fill="#222" stroke="#222" stroke-width="0.2">6-10mm</text>
<text x="1100.5" y="255.5" font-size="10.6" textLength="47.7" lengthAdjust="spacingAndGlyphs" fill="#222" stroke="#222" stroke-width="0.2">15-25mm</text>
</svg>
</body></html>
